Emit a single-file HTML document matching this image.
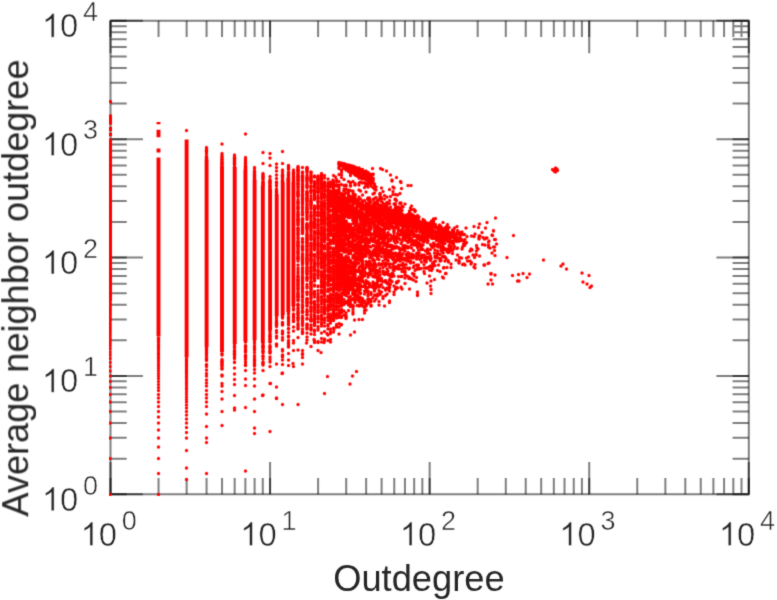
<!DOCTYPE html>
<html><head><meta charset="utf-8"><title>Outdegree vs average neighbor outdegree</title>
<style>
html,body{margin:0;padding:0;background:#fff}
svg{display:block}
text{font-family:"Liberation Sans",sans-serif;fill:#262626;stroke:#fff;paint-order:fill stroke}
.tk text{stroke-width:.5px}
</style></head>
<body>
<svg width="777" height="600" viewBox="0 0 777 600">
<defs><filter id="soft" filterUnits="userSpaceOnUse" x="0" y="0" width="777" height="600" color-interpolation-filters="sRGB"><feConvolveMatrix order="3" kernelMatrix=".0169 .0962 .0169 .0962 .5476 .0962 .0169 .0962 .0169" edgeMode="duplicate"/></filter></defs>
<g filter="url(#soft)">
<rect width="777" height="600" fill="#fff"/>
<g fill="none" stroke="#000" stroke-opacity=".5" stroke-width="2">
<path d="M110.5 20.8H748.8V494.3H110.5Z"/>
<path d="M110.5 494.3v-32.4M110.5 20.8v32.4M110.5 494.3h32.4M748.8 494.3h-32.4M158.54 494.3v-16.2M158.54 20.8v16.2M110.5 458.67h16.2M748.8 458.67h-16.2M186.64 494.3v-16.2M186.64 20.8v16.2M110.5 437.82h16.2M748.8 437.82h-16.2M206.57 494.3v-16.2M206.57 20.8v16.2M110.5 423.03h16.2M748.8 423.03h-16.2M222.04 494.3v-16.2M222.04 20.8v16.2M110.5 411.56h16.2M748.8 411.56h-16.2M234.67 494.3v-16.2M234.67 20.8v16.2M110.5 402.19h16.2M748.8 402.19h-16.2M245.36 494.3v-16.2M245.36 20.8v16.2M110.5 394.26h16.2M748.8 394.26h-16.2M254.61 494.3v-16.2M254.61 20.8v16.2M110.5 387.4h16.2M748.8 387.4h-16.2M262.77 494.3v-16.2M262.77 20.8v16.2M110.5 381.34h16.2M748.8 381.34h-16.2M270.07 494.3v-32.4M270.07 20.8v32.4M110.5 375.93h32.4M748.8 375.93h-32.4M318.11 494.3v-16.2M318.11 20.8v16.2M110.5 340.29h16.2M748.8 340.29h-16.2M346.21 494.3v-16.2M346.21 20.8v16.2M110.5 319.45h16.2M748.8 319.45h-16.2M366.15 494.3v-16.2M366.15 20.8v16.2M110.5 304.66h16.2M748.8 304.66h-16.2M381.61 494.3v-16.2M381.61 20.8v16.2M110.5 293.18h16.2M748.8 293.18h-16.2M394.25 494.3v-16.2M394.25 20.8v16.2M110.5 283.81h16.2M748.8 283.81h-16.2M404.93 494.3v-16.2M404.93 20.8v16.2M110.5 275.89h16.2M748.8 275.89h-16.2M414.19 494.3v-16.2M414.19 20.8v16.2M110.5 269.02h16.2M748.8 269.02h-16.2M422.35 494.3v-16.2M422.35 20.8v16.2M110.5 262.97h16.2M748.8 262.97h-16.2M429.65 494.3v-32.4M429.65 20.8v32.4M110.5 257.55h32.4M748.8 257.55h-32.4M477.69 494.3v-16.2M477.69 20.8v16.2M110.5 221.92h16.2M748.8 221.92h-16.2M505.79 494.3v-16.2M505.79 20.8v16.2M110.5 201.07h16.2M748.8 201.07h-16.2M525.72 494.3v-16.2M525.72 20.8v16.2M110.5 186.28h16.2M748.8 186.28h-16.2M541.19 494.3v-16.2M541.19 20.8v16.2M110.5 174.81h16.2M748.8 174.81h-16.2M553.82 494.3v-16.2M553.82 20.8v16.2M110.5 165.44h16.2M748.8 165.44h-16.2M564.51 494.3v-16.2M564.51 20.8v16.2M110.5 157.51h16.2M748.8 157.51h-16.2M573.76 494.3v-16.2M573.76 20.8v16.2M110.5 150.65h16.2M748.8 150.65h-16.2M581.92 494.3v-16.2M581.92 20.8v16.2M110.5 144.59h16.2M748.8 144.59h-16.2M589.22 494.3v-32.4M589.22 20.8v32.4M110.5 139.18h32.4M748.8 139.18h-32.4M637.26 494.3v-16.2M637.26 20.8v16.2M110.5 103.54h16.2M748.8 103.54h-16.2M665.36 494.3v-16.2M665.36 20.8v16.2M110.5 82.7h16.2M748.8 82.7h-16.2M685.3 494.3v-16.2M685.3 20.8v16.2M110.5 67.91h16.2M748.8 67.91h-16.2M700.76 494.3v-16.2M700.76 20.8v16.2M110.5 56.43h16.2M748.8 56.43h-16.2M713.4 494.3v-16.2M713.4 20.8v16.2M110.5 47.06h16.2M748.8 47.06h-16.2M724.08 494.3v-16.2M724.08 20.8v16.2M110.5 39.14h16.2M748.8 39.14h-16.2M733.34 494.3v-16.2M733.34 20.8v16.2M110.5 32.27h16.2M748.8 32.27h-16.2M741.5 494.3v-16.2M741.5 20.8v16.2M110.5 26.22h16.2M748.8 26.22h-16.2M748.8 494.3v-32.4M748.8 20.8v32.4M110.5 20.8h32.4M748.8 20.8h-32.4"/>
<path d="M110.5 494.3v-16.2M110.5 20.8v16.2M110.5 494.3h16.2M748.8 494.3h-16.2M270.07 494.3v-16.2M270.07 20.8v16.2M110.5 375.93h16.2M748.8 375.93h-16.2M429.65 494.3v-16.2M429.65 20.8v16.2M110.5 257.55h16.2M748.8 257.55h-16.2M589.22 494.3v-16.2M589.22 20.8v16.2M110.5 139.18h16.2M748.8 139.18h-16.2M748.8 494.3v-16.2M748.8 20.8v16.2M110.5 20.8h16.2M748.8 20.8h-16.2"/>
</g>
<defs>
<path id="one" d="M763 0H583V1147Q518 1085 412.5 1023T223 930V1104Q374 1175 487 1276T647 1472H763Z" fill="#262626" stroke="#fff" stroke-width="31" paint-order="fill stroke"/>
<path id="g0" d="M0 0m110 304.5h0m0 10h0m0 3.5h0m0 7h0m0 6h0m0 4.5h0m0 7.5h0m0 5.5h0m0 10h0m0 4h0m0 13.5h0m0 18.5h0m0 17h0m0 11.5h0m48.5-80h0m0 1.5h0m0 14h0m0 39.5h0m0 8.5h0m0 10.5h0m0 41.5h0m28-96h0m0 2.5h0m0 7.5h0m0 13h0m0 2h0m0 7h0m0 2.5h0m0 35.5h0m0 5.5h0m20-287.5h0m0 203h0m0 6h0m0 14h0m0 53h0m15.5-282.5h0m0 12.5h0m0 3h0m0 1.5h0m0 3h0m0 190.5h0m0 .5h0m0 4.5h0m0 3.5h0m0 1h0m0 3.5h0m0 1h0m12.5-210h0m0 1.5h0m0 4h0m0 186.5h0m0 3h0m11-189.5h0m0 1.5h0m0 176h0m0 4h0m0 11h0m0 5.5h0m0 .5h0m0 2h0m9-193.5h0m0 2h0m0 172.5h0m0 .5h0m0 1h0m0 11.5h0m0 14.5h0m8.5-220.5h0m0 30h0m0 3h0m0 162h0m0 3h0m0 8.5h0m0 3h0m0 1.5h0m-.5 32h0m7.5-214.5h0m0 .5h0m0 160.5h0m0 6h0m0 4h0m0 7.5h0m6.5-195.5h0m0 3.5h0m0 11h0m0 3.5h0m0 139.5h0m0 1.5h0m0 7.5h0m0 56.5h0m0 11.5h0m6-247h0m0 30h0m0 134h0m0 7h0m0 1.5h0m0 .5h0m0 6.5h0m0 6.5h0m0 12h0m0 5.5h0m6-189h0m0 2.5h0m0 149h0m0 2h0m0 .5h0m0 1h0m0 15.5h0m5-162.5h0m0 1h0m0 1.5h0m0 2.5h0m0 .5h0m0 130.5h0m0 11h0m0 45.5h0m4.5-196.5h0m0 1.5h0m0 5.5h0m0 .5h0m0 1.5h0m0 3.5h0m0 1.5h0m0 4h0m0 11.5h0m0 7.5h0m0 2h0m0 .5h0m0 2h0m0 3h0m0 2.5h0m0 1.5h0m0 3h0m0 1.5h0m0 2h0m0 3.5h0m0 2.5h0m0 7.5h0m0 4h0m0 2.5h0m0 7h0m0 1.5h0m0 3.5h0m0 16.5h0m0 5.5h0m0 1h0m0 2.5h0m0 6h0m0 2.5h0m0 6.5h0m0 7.5h0m0 3h0m0 10.5h0m0 2h0m0 7.5h0m0 9.5h0m4.5-165.5h0m0 4.5h0m0 2h0m0 1h0m0 .5h0m0 11h0m0 4.5h0m0 .5h0m0 6h0m0 20.5h0m0 2.5h0m0 17h0m0 5h0m0 6.5h0m0 6h0m0 9h0m0 10h0m0 2.5h0m0 4h0m0 1.5h0m0 5h0m0 6h0m0 4.5h0m0 4h0m0 .5h0m0 5h0m0 9h0m0 .5h0m0 1h0m0 35.5h0m4.5-190h0m0 11h0m0 3.5h0m0 .5h0m0 4h0m0 8h0m0 5h0m0 2.5h0m0 10h0m0 7.5h0m0 6h0m0 1.5h0m0 2h0m0 1h0m0 6h0m0 1h0m0 5h0m0 4.5h0m0 1h0m0 .5h0m0 2h0m0 2.5h0m0 6h0m0 .5h0m0 9.5h0m0 3h0m0 1.5h0m0 1h0m0 .5h0m0 4h0m0 13.5h0m0 7h0m0 1.5h0m0 .5h0m0 1.5h0m0 12.5h0m0 22h0m4-160h0m0 .5h0m0 5.5h0m0 3h0m0 3.5h0m0 1.5h0m0 14h0m0 19.5h0m0 5.5h0m0 3.5h0m0 .5h0m0 1h0m0 4.5h0m0 5h0m0 1h0m0 4.5h0m0 6.5h0m0 .5h0m0 3.5h0m0 6h0m0 2h0m0 3h0m0 10h0m0 1h0m0 3.5h0m0 1.5h0m0 5.5h0m0 9.5h0m0 8.5h0m0 9h0m0 7.5h0m0 .5h0m3.5-151h0m0 4.5h0m0 4h0m0 10.5h0m0 1h0m0 11h0m0 1.5h0m0 3.5h0m0 13h0m0 6.5h0m0 6.5h0m0 1h0m0 1h0m0 23.5h0m0 .5h0m0 13h0m0 1.5h0m0 12h0m0 3.5h0m0 2h0m0 5h0m0 2.5h0m0 1h0m0 5h0m0 2h0m0 3h0m0 7h0m-.5 17h0m4-156.5h0m0 6.5h0m0 1.5h0m0 7h0m0 14.5h0m0 3.5h0m0 9.5h0m0 .5h0m0 7.5h0m0 5h0m0 .5h0m0 .5h0m0 1h0m0 4h0m0 16h0m0 4h0m0 2h0m0 7.5h0m0 1h0m0 25.5h0m0 .5h0m0 .5h0m0 3.5h0m0 5.5h0m0 1h0m0 .5h0m0 30.5h0m3.5-166.5h0m0 1.5h0m0 2.5h0m0 3.5h0m0 3.5h0m0 2h0m0 .5h0m0 4h0m0 8h0m0 2.5h0m0 11h0m0 .5h0m0 8h0m0 5h0m0 .5h0m0 1h0m0 .5h0m0 4.5h0m0 .5h0m0 1h0m0 3.5h0m0 1h0m0 1h0m0 1h0m0 6h0m0 2h0m0 3.5h0m0 .5h0m0 1.5h0m0 1h0m0 2.5h0m0 2.5h0m0 9h0m0 3h0m0 7.5h0m0 3.5h0m0 1.5h0m0 5.5h0m0 5h0m0 12h0m0 9h0m0 .5h0m0 5h0m-.5 28.5h0m3.5-164.5h0m0 .5h0m0 5h0m0 2h0m0 2h0m0 5.5h0m0 17.5h0m0 36h0m0 2h0m0 9.5h0m0 1.5h0m0 5.5h0m0 .5h0m0 7.5h0m0 4h0m0 13.5h0m0 7h0m0 12.5h0m3.5-141h0m0 5.5h0m0 1h0m0 5.5h0m0 7h0m0 8.5h0m0 2.5h0m0 7h0m0 .5h0m0 1h0m0 4.5h0m0 13h0m0 22h0m0 8h0m0 6h0m0 1h0m0 7.5h0m0 2.5h0m0 2h0m0 6.5h0m0 17h0m0 9.5h0m0 3.5h0m0 5.5h0m-1 7.5h0m3.5-147.5h0m0 12h0m0 8.5h0m0 8.5h0m0 2h0m0 3.5h0m0 1h0m0 5h0m0 6.5h0m0 19h0m0 19h0m0 9h0m0 .5h0m0 9.5h0m0 6.5h0m0 .5h0m0 1h0m0 2.5h0m0 13.5h0m0 3h0m0 4h0m0 8h0m0 4.5h0m0 6h0m2.5-159.5h0m.5 8h0m0 6.5h0m0 .5h0m0 .5h0m0 5h0m0 1.5h0m0 2h0m0 1h0m0 4h0m0 8h0m0 12.5h0m0 1.5h0m0 2.5h0m0 1h0m0 1.5h0m0 19.5h0m0 7h0m0 6.5h0m0 9h0m0 .5h0m0 3.5h0m0 4.5h0m0 5h0m0 .5h0m0 2.5h0m0 4h0m0 14h0m0 3.5h0m0 3h0m0 .5h0m0 .5h0m2-143h0m1 2.5h0m0 6h0m0 6.5h0m0 .5h0m0 7h0m0 7.5h0m0 2.5h0m0 10.5h0m0 4h0m0 2h0m0 1.5h0m0 8.5h0m0 2h0m0 1.5h0m0 3.5h0m0 .5h0m0 3h0m0 1.5h0m0 8h0m0 6h0m0 1.5h0m0 2h0m0 10.5h0m0 9.5h0m0 1h0m0 2h0m0 1h0m0 5h0m0 1.5h0m0 2.5h0m0 3.5h0m0 11.5h0m0 .5h0m0 13h0m2.5-142h0m0 5.5h0m0 6h0m0 2h0m0 3.5h0m0 3h0m0 2.5h0m0 1.5h0m0 1h0m0 2h0m0 4h0m0 4.5h0m0 14.5h0m0 .5h0m0 4.5h0m0 1h0m0 .5h0m0 4.5h0m0 4.5h0m0 3.5h0m0 16h0m0 5.5h0m0 6h0m0 1h0m0 1h0m0 4h0m0 9h0m0 .5h0m0 2.5h0m0 7h0m0 .5h0m0 3h0m0 3.5h0m0 .5h0m2.5-144h0m0 2.5h0m0 12h0m0 14h0m0 .5h0m0 2.5h0m0 3h0m0 .5h0m0 5.5h0m0 6h0m0 4.5h0m0 .5h0m0 1h0m0 5.5h0m0 6h0m0 .5h0m0 1h0m0 11h0m0 15h0m0 3h0m0 3h0m0 .5h0m0 1.5h0m0 5.5h0m0 1h0m0 .5h0m0 .5h0m0 6.5h0m0 9.5h0m0 .5h0m0 17.5h0m0 1.5h0m0 3.5h0m2.5-151.5h0m0 .5h0m0 .5h0m2 .5h0m0 .5h0m-2 .5h0m0 .5h0m2 .5h0m-2 27h0m2 4h0m0 3h0m-2 .5h0m2 4h0m-2 0h0m2 .5h0m-2 .5h0m2 1h0m-2 2h0m2 0h0m-2 6.5h0m0 .5h0m0 1h0m0 2h0m0 7.5h0m2 1h0m-2 1.5h0m2 1h0m-2 2h0m2 1.5h0m0 1h0m-2 2.5h0m2 1.5h0m-2 4h0m2 6.5h0m0 5.5h0m0 2h0m-2 1.5h0m2 .5h0m-2 1.5h0m2 1h0m-2 2h0m0 .5h0m0 4h0m2 6.5h0m-2 3h0m2 .5h0m-2 0h0m0 .5h0m2 0h0m-2 2h0m2 8.5h0m-2 1h0m0 .5h0m0 1.5h0m2 2.5h0m0 7.5h0m2.5-137.5h0m0 1h0m0 .5h0m0 .5h0m0 .5h0m0 27h0m0 14h0m0 5h0m0 3h0m0 9h0m0 2.5h0m0 9.5h0m0 .5h0m0 19h0m0 7.5h0m0 12h0m0 2h0m0 2h0m0 2.5h0m0 .5h0m0 .5h0m0 .5h0m0 12h0m0 8h0m2-139h0m0 2.5h0m0 3h0m0 2h0m0 25h0m0 2h0m0 7.5h0m0 .5h0m0 4h0m0 1h0m0 4h0m0 10.5h0m0 3h0m0 .5h0m0 13.5h0m0 7h0m0 8.5h0m0 1.5h0m0 4h0m0 1h0m0 1h0m0 .5h0m0 2.5h0m0 6.5h0m0 1h0m0 8h0m0 1.5h0m0 1.5h0m0 14h0m0 3h0m-.5 77.5h0m5-214h0m-2 1h0m2 2h0m-2 20h0m2 16.5h0m-2 18.5h0m0 4.5h0m2 8h0m0 4h0m-2 .5h0m2 2h0m0 3.5h0m0 9.5h0m0 .5h0m-2 2h0m2 1h0m-2 10.5h0m0 2h0m0 2h0m0 1.5h0m0 9.5h0m2 1.5h0m-2 3h0m2 7.5h0m-2 5h0m0 3.5h0m0 2.5h0m1.5 8h0m2.5-151.5h0m0 1h0m0 5h0m0 1.5h0m0 28.5h0m0 2.5h0m0 1.5h0m0 1h0m0 .5h0m0 1h0m0 1h0m0 4h0m0 23h0m0 3.5h0m0 5h0m0 4.5h0m0 .5h0m0 11.5h0m0 26.5h0m0 5h0m3.5-122h0m-1.5 .5h0m1.5 3h0m0 1h0m0 13h0m-1.5 13.5h0m0 .5h0m1.5 1h0m-1.5 6.5h0m0 3.5h0m0 17h0m0 3h0m0 .5h0m1.5 12.5h0m-1.5 1h0m0 6.5h0m0 11h0m1.5 3.5h0m-1.5 .5h0m1.5 .5h0m0 5h0m0 2h0m0 7.5h0m0 3h0m-1.5 3.5h0m1.5 .5h0m-1.5 3h0m0 5h0m0 3.5h0m3.5-132.5h0m0 1.5h0m0 2.5h0m0 2.5h0m0 22h0m0 8.5h0m0 5.5h0m0 14h0m0 7h0m0 3h0m0 1h0m0 1.5h0m0 20.5h0m0 5h0m0 .5h0m0 1.5h0m0 11.5h0m0 6h0m0 14h0m3.5-129.5h0m-1.5 .5h0m1.5 2.5h0m0 .5h0m-1.5 0h0m0 .5h0m1.5 0h0m-1.5 .5h0m1.5 4h0m0 23.5h0m0 4h0m0 .5h0m0 1h0m-1.5 .5h0m1.5 3h0m0 1.5h0m-1.5 2h0m0 1h0m0 5.5h0m0 10.5h0m1.5 0h0m-1.5 17.5h0m0 3h0m0 .5h0m0 1.5h0m0 15h0m1.5 3h0m-1.5 12.5h0m0 .5h0m0 .5h0m1.5 .5h0m-1.5 15h0m1.5 3.5h0m3.5-131.5h0m-1.5 .5h0m1.5 1h0m0 3h0m-1.5 1h0m0 .5h0m0 7h0m0 11h0m1.5 0h0m-1.5 6.5h0m1.5 3.5h0m-1.5 3h0m0 1h0m1.5 1h0m-1.5 6h0m0 1.5h0m1.5 1.5h0m0 1.5h0m0 4.5h0m-1.5 4h0m1.5 2.5h0m-1.5 17h0m1.5 11.5h0m-1.5 1.5h0m0 1h0m1.5 8h0m-1.5 9.5h0m0 4.5h0m1.5 12h0m3.5-125h0m-2 4.5h0m2 1h0m-2 .5h0m0 3h0m2 23.5h0m-2 3.5h0m0 1.5h0m0 1.5h0m2 .5h0m-2 .5h0m0 8h0m0 3h0m0 13.5h0m2 6.5h0m-2 10.5h0m0 7.5h0m0 2h0m2 4.5h0m-2 4h0m0 12.5h0m0 7.5h0m0 .5h0m3.5-110.5h0m0 5h0m0 14.5h0m1.5 .5h0m-1.5 2.5h0m1.5 1h0m0 1.5h0m-1.5 1h0m0 2h0m1.5 2.5h0m0 2.5h0m-1.5 .5h0m1.5 1h0m-1.5 6h0m0 7h0m1.5 16.5h0m-1.5 2h0m0 .5h0m1.5 2h0m-1.5 0h0m1.5 .5h0m0 1h0m-1.5 8.5h0m0 7h0m0 7.5h0m0 9h0m0 2.5h0m3-79.5h0m1.5 2h0m-1.5 2h0m0 13.5h0m1.5 2.5h0m0 1h0m0 10h0m-1.5 9h0m0 5.5h0m1.5 1h0m0 15.5h0m-1.5 2.5h0m2.5-68.5h0m1.5 .5h0m0 1h0m-1.5 3.5h0m0 .5h0m0 2h0m0 2h0m1.5 15h0m-1.5 2.5h0m1.5 6.5h0m0 4h0m-1.5 3.5h0m0 3.5h0m1.5 29h0m1-109h0m.5 22h0m1.5 17.5h0m1 0h0m0 .5h0m-1 0h0m1 .5h0m-1 1.5h0m0 1.5h0m-1.5 .5h0m2.5 4.5h0m-2.5 2h0m0 9h0m1.5 5h0m1 1h0m-2.5 .5h0m2.5 7.5h0m-1 1h0m1 1h0m-2.5 4h0m1.5 1h0m0 3h0m0 .5h0m-1.5 7.5h0m0 3h0m2.5 2h0m-2.5 21.5h0m2.5 8h0m-2.5 3h0m4-95.5h0m0 2h0m1 3.5h0m0 1h0m-1 1h0m0 .5h0m1 21.5h0m-1 22h0m1 0h0m-1 .5h0m1 1.5h0m0 7.5h0m0 10h0m-1 9h0m1 6h0m-1 5h0m2.5-104.5h0m1 20h0m-1 1h0m1 5h0m-1 3.5h0m0 4.5h0m1 1h0m0 10.5h0m0 21h0m0 1.5h0m-1 22h0m0 1h0m0 20.5h0m2.5-121h0m1 11.5h0m1 18.5h0m-2 2.5h0m2 2.5h0m-1 0h0m-1 2h0m1 .5h0m1 1h0m0 .5h0m-2 3.5h0m2 .5h0m-2 3.5h0m0 .5h0m2 6h0m-2 12.5h0m2 1h0m-1 7h0m-1 3h0m2 3h0m-1 14h0m-1 1.5h0m3.5-64.5h0m2 1.5h0m-1 4h0m0 1h0m1 2.5h0m-2 4.5h0m1 3.5h0m-1 12h0m0 3.5h0m0 11h0m1 2h0m1 2.5h0m-1 1h0m-1 7h0m0 23h0m4.5-77.5h0m-1.5 5.5h0m0 10.5h0m0 10h0m0 10h0m1.5 2h0m-1.5 3.5h0m0 3h0m0 10.5h0m0 9.5h0m2.5-66h0m2 4h0m-1 0h0m-1 .5h0m2 1h0m-2 2.5h0m2 4h0m0 6.5h0m-2 1h0m1 .5h0m-1 13h0m1 6h0m0 10h0m1 3.5h0m-1 2h0m1 3.5h0m2-52.5h0m0 1h0m1 3.5h0m-2 1h0m2 .5h0m-1 1h0m0 2.5h0m0 1h0m0 5.5h0m0 3h0m1 2.5h0m-2 11.5h0m0 1h0m1 .5h0m0 .5h0m0 7h0m0 10h0m0 4.5h0m3-87h0m0 29h0m-1 1h0m2.5 2h0m-1.5 0h0m1 3h0m0 .5h0m-2 1.5h0m1 4.5h0m1 .5h0m.5 0h0m-.5 2h0m0 3h0m-1 .5h0m-1 5h0m2 3h0m0 6h0m-1 1h0m0 8h0m-1 1.5h0m2.5 31.5h0m2-83h0m0 8h0m0 2h0m0 5.5h0m-1 1.5h0m1 1.5h0m0 2h0m0 5h0m-1 1.5h0m0 4.5h0m0 1h0m1 6h0m0 9.5h0m-1 3.5h0m1 .5h0m-1 3h0m3-45h0m0 4.5h0m0 2h0m-1 .5h0m0 10h0m1 2.5h0m0 1h0m-1 5h0m1 3h0m0 18h0m0 17.5h0m4-64.5h0m-1 3h0m1 1.5h0m-1.5 0h0m1.5 2.5h0m-1.5 3.5h0m.5 0h0m-.5 .5h0m0 1.5h0m0 .5h0m1.5 .5h0m-1 .5h0m-.5 5.5h0m0 .5h0m.5 5.5h0m2-21.5h0m.5 1.5h0m0 1h0m0 .5h0m1 2h0m-1 .5h0m2 3h0m-2.5 7h0m0 .5h0m3 3h0m-1.5 1.5h0m1.5 15h0m-2.5 1h0m4-34h0m-.5 1h0m.5 4.5h0m0 5h0m-.5 3h0m0 5h0m0 16.5h0m2-36.5h0m1.5 5.5h0m1.5 1.5h0m-2 0h0m.5 .5h0m1.5 0h0m-.5 1h0m-1.5 0h0m1.5 2h0m-2.5 0h0m1.5 6.5h0m1.5 2h0m-3 19.5h0m2.5 9h0m2-42h0m.5 1h0m-1.5 1h0m1 .5h0m0 .5h0m-1 6h0m0 1h0m5.5-17h0m-2 5.5h0m2 0h0m-2 1h0m1.5 .5h0m-2 1.5h0m-.5 4h0m2.5 1h0m-1.5 1.5h0m1.5 2.5h0m-2 .5h0m2.5 1h0m-1 .5h0m-2 17.5h0m0 4.5h0m2.5 3h0m-.5 5h0m-2 17.5h0m5-61.5h0m-.5 6.5h0m.5 4h0m-1 2.5h0m.5 .5h0m.5 23h0m-1 .5h0m5-36.5h0m0 2.5h0m0 6.5h0m-2.5 1.5h0m.5 1.5h0m1 .5h0m-2 1h0m3 .5h0m-1.5 1.5h0m2-15h0m1 5h0m-.5 .5h0m1 .5h0m-1.5 1.5h0m0 2.5h0m1 1.5h0m-.5 4h0m0 18.5h0m4-30.5h0m-1.5 1h0m0 2.5h0m2 1h0m-.5 4.5h0m-2 5h0m.5 4h0m.5 1h0m-1 .5h0m2 8h0m.5 .5h0m-1 10.5h0m3-37h0m-1 1.5h0m2 2h0m-1 1.5h0m1 .5h0m-2 4h0m1.5 .5h0m.5 20h0m1-33h0m-.5 8h0m.5 .5h0m1 4h0m-.5 5h0m.5 2h0m-1.5 3.5h0m5-20h0m-.5 12h0m.5 1h0m-1 7h0m2-22.5h0m3 2.5h0m-.5 2h0m-2 6.5h0m2.5 0h0m0 2.5h0m1-7.5h0m1.5 3h0m-.5 4h0m0 16.5h0m2-24h0m-.5 5.5h0m1.5 1h0m2.5 25h0m6.5-29h0m.5 14h0m1 5h0m1 12h0m1 1h0m3.5-40.5h0m6 11.5h0m4.5 2h0m-.5 1h0m0 5h0m-.5 37h0m4-31h0m3 2.5h0m60.5-87.5h0m-1.5 3h0m3-2h0m.5 1.5h0m3.5 95.5h0m2-2h0"/><path id="g1" d="M0 0m110 307.5h0m0 4h0m0 4.5h0m0 13h0m0 16.5h0m0 21h0m0 92h0m48.5-119.5h0m0 21.5h0m0 2h0m0 2h0m0 26h0m0 39.5h0m0 43.5h0m28-343h0m0 228h0m0 2.5h0m0 7h0m0 111.5h0m20-328.5h0m0 6.5h0m0 194.5h0m0 .5h0m0 2.5h0m0 1h0m0 1h0m0 1.5h0m0 24.5h0m0 31h0m0 59.5h0m15.5-313.5h0m0 2h0m0 1.5h0m0 198h0m0 7.5h0m0 30h0m12.5-240h0m0 4h0m0 1.5h0m0 182h0m0 10.5h0m0 5h0m0 .5h0m0 5.5h0m0 11.5h0m11-220h0m0 .5h0m0 7.5h0m0 174.5h0m0 4.5h0m0 3h0m0 2h0m0 34h0m0 85.5h0m9-299.5h0m0 .5h0m0 .5h0m0 1.5h0m0 2h0m0 3h0m0 164h0m0 7h0m0 5.5h0m0 1h0m0 4.5h0m0 5h0m0 13h0m8.5-202h0m0 1.5h0m0 5.5h0m0 159h0m0 1h0m0 1.5h0m0 25h0m0 24.5h0m7-241.5h0m0 12h0m0 20h0m0 149.5h0m0 4h0m0 2h0m0 9h0m0 3h0m0 13.5h0m.5 17h0m-.5 48h0m6.5-245.5h0m0 3h0m0 .5h0m0 126.5h0m0 48h0m6-194h0m0 4.5h0m0 2.5h0m0 139.5h0m0 17.5h0m0 30.5h0m-.5 9h0m6.5-208h0m0 1h0m0 3h0m0 2.5h0m0 3h0m0 138.5h0m0 11.5h0m0 7.5h0m0 21h0m0 6.5h0m5-190h0m0 2h0m0 2.5h0m0 3.5h0m0 128.5h0m0 8.5h0m0 1.5h0m0 34h0m-.5 13h0m5-196h0m0 2h0m0 6h0m0 .5h0m0 3.5h0m0 7h0m0 5h0m0 3h0m0 2h0m0 6.5h0m0 5.5h0m0 4h0m0 7h0m0 14h0m0 .5h0m0 .5h0m0 10h0m0 2h0m0 5h0m0 6.5h0m0 18.5h0m0 10.5h0m0 1h0m0 5h0m0 2.5h0m0 4.5h0m0 5.5h0m0 7.5h0m0 16h0m4.5-148h0m0 1h0m0 5.5h0m0 7.5h0m0 4h0m0 5.5h0m0 2h0m0 12h0m0 5h0m0 .5h0m0 2.5h0m0 3.5h0m0 3.5h0m0 6h0m0 2h0m0 1h0m0 5.5h0m0 2.5h0m0 6.5h0m0 6h0m0 4.5h0m0 4h0m0 8h0m0 11.5h0m0 2h0m0 2h0m0 1h0m0 11.5h0m0 .5h0m0 4.5h0m0 19h0m0 19h0m0 3h0m4.5-182.5h0m0 6h0m0 1h0m0 6.5h0m0 7h0m0 1.5h0m0 5.5h0m0 5.5h0m0 2h0m0 2h0m0 .5h0m0 1h0m0 6h0m0 1h0m0 8h0m0 1.5h0m0 2h0m0 4h0m0 5.5h0m0 1.5h0m0 .5h0m0 6.5h0m0 9h0m0 5h0m0 4h0m0 6.5h0m0 7h0m0 24.5h0m0 9.5h0m0 3h0m0 4.5h0m0 6h0m4-153h0m0 2h0m0 1h0m0 5.5h0m0 9.5h0m0 8.5h0m0 .5h0m0 1h0m0 3h0m0 13h0m0 2h0m0 .5h0m0 .5h0m0 .5h0m0 .5h0m0 3h0m0 4h0m0 2.5h0m0 7h0m0 7h0m0 2.5h0m0 3h0m0 5h0m0 6h0m0 4h0m0 3h0m0 4h0m0 5.5h0m0 5.5h0m0 9h0m0 3h0m0 20.5h0m0 5h0m0 1.5h0m3.5-145h0m0 .5h0m0 7.5h0m0 7h0m0 .5h0m0 2.5h0m0 1.5h0m0 3.5h0m0 7h0m0 9.5h0m0 2.5h0m0 4h0m0 1.5h0m0 1.5h0m0 3h0m0 6h0m0 2h0m0 2h0m0 16.5h0m0 9h0m0 6h0m0 5h0m0 6h0m0 21h0m0 7.5h0m0 8h0m0 1h0m0 2.5h0m0 1.5h0m0 3.5h0m0 17h0m3.5-164h0m0 2.5h0m0 2.5h0m0 .5h0m0 1.5h0m0 2.5h0m0 20h0m0 6.5h0m0 .5h0m0 12h0m0 .5h0m0 6.5h0m0 2.5h0m0 13h0m0 4.5h0m0 .5h0m0 3.5h0m0 .5h0m0 4h0m0 .5h0m0 6.5h0m0 29h0m0 1h0m0 8h0m0 1.5h0m0 1h0m0 7.5h0m0 1h0m0 3.5h0m3.5-147.5h0m0 10.5h0m0 1h0m0 2.5h0m0 10h0m0 6h0m0 2h0m0 .5h0m0 1h0m0 1.5h0m0 2.5h0m0 5h0m0 3h0m0 7h0m0 .5h0m0 6h0m0 1h0m0 4h0m0 8h0m0 5h0m0 1h0m0 1.5h0m0 7h0m0 2h0m0 34h0m0 7h0m0 11h0m0 18h0m3-149h0m0 1.5h0m0 .5h0m0 1.5h0m0 17h0m0 7h0m0 2.5h0m0 3h0m0 7h0m0 6.5h0m0 3.5h0m0 1h0m0 2.5h0m0 1h0m0 3h0m0 .5h0m0 3.5h0m0 7.5h0m0 .5h0m0 2h0m0 2h0m0 2.5h0m0 1h0m0 1.5h0m0 4h0m0 5h0m0 6.5h0m0 5.5h0m0 4.5h0m0 6.5h0m0 4.5h0m0 1h0m0 9.5h0m0 2.5h0m0 27h0m-.5 3.5h0m4-155.5h0m0 2h0m0 .5h0m0 6h0m0 7.5h0m0 .5h0m0 19.5h0m0 5.5h0m0 2h0m0 .5h0m0 2.5h0m0 2h0m0 4.5h0m0 3.5h0m0 5.5h0m0 3h0m0 3.5h0m0 3.5h0m0 9h0m0 8h0m0 6.5h0m0 9h0m0 4.5h0m0 .5h0m0 3.5h0m0 .5h0m0 1.5h0m0 8h0m0 4h0m0 26.5h0m-.5 36h0m3-194.5h0m0 9h0m0 2h0m0 2h0m0 3.5h0m0 11.5h0m0 16h0m0 1.5h0m0 2.5h0m0 11h0m0 27h0m0 7h0m0 3.5h0m0 20h0m0 8.5h0m0 9h0m0 3h0m0 4h0m3-141.5h0m0 4h0m0 3h0m0 1h0m0 1.5h0m0 8.5h0m0 1.5h0m0 5.5h0m0 .5h0m0 1.5h0m0 1.5h0m0 4.5h0m0 3h0m0 1.5h0m0 .5h0m0 2h0m0 .5h0m0 .5h0m0 2.5h0m0 2.5h0m0 .5h0m0 .5h0m0 5.5h0m0 1h0m0 .5h0m0 1h0m0 13.5h0m0 .5h0m0 9.5h0m0 1.5h0m0 8.5h0m0 2h0m0 5h0m0 2h0m0 4.5h0m0 .5h0m0 11h0m0 6h0m0 3.5h0m0 2h0m0 1h0m0 .5h0m0 1h0m3-117.5h0m0 4h0m0 1h0m0 1.5h0m0 1h0m0 3.5h0m0 6.5h0m0 1.5h0m0 8.5h0m0 6.5h0m0 3h0m0 1h0m0 .5h0m0 2.5h0m0 2.5h0m0 10h0m0 9h0m0 13h0m0 .5h0m0 .5h0m0 4h0m0 2.5h0m0 3h0m0 19.5h0m0 2h0m0 4h0m0 12h0m0 1h0m2.5-134.5h0m0 12h0m0 12h0m0 12.5h0m0 6h0m0 2.5h0m0 2h0m0 1.5h0m0 2h0m0 1.5h0m0 5.5h0m0 9.5h0m0 9h0m0 5.5h0m0 13h0m0 1h0m0 11.5h0m0 2.5h0m0 21.5h0m2.5-147.5h0m0 10h0m0 19h0m0 5.5h0m0 3h0m0 1h0m0 3h0m0 3h0m0 3.5h0m0 7.5h0m0 8.5h0m0 3h0m0 1.5h0m0 3.5h0m0 4h0m0 1h0m0 1h0m0 5.5h0m0 1h0m0 10h0m0 12.5h0m0 7h0m0 5.5h0m0 1h0m0 .5h0m0 1h0m0 10.5h0m0 1h0m0 1h0m0 .5h0m0 1h0m0 4.5h0m-.5 19.5h0m3-161.5h0m0 .5h0m2 .5h0m0 1h0m0 2h0m-2 1h0m2 .5h0m0 .5h0m0 .5h0m-2 19h0m2 0h0m0 1h0m-2 .5h0m0 3.5h0m0 2.5h0m2 1.5h0m-2 2.5h0m0 .5h0m0 5h0m0 8.5h0m2 .5h0m-2 10h0m0 10.5h0m2 1h0m-2 5h0m0 1h0m0 1h0m0 3h0m0 2h0m0 10.5h0m0 1h0m2 2h0m0 1h0m0 4h0m-2 3.5h0m0 3h0m2 .5h0m0 1h0m-2 1.5h0m0 .5h0m2 1h0m-2 2h0m2 8.5h0m0 .5h0m0 .5h0m0 1h0m-2 1.5h0m2 9.5h0m-2 3h0m4.5-139.5h0m0 1h0m0 2.5h0m0 3h0m0 31h0m0 1h0m0 2.5h0m0 .5h0m0 4h0m0 2h0m0 4h0m0 7.5h0m0 1h0m0 14h0m0 1.5h0m0 1.5h0m0 10h0m0 6h0m0 3.5h0m0 5h0m0 6.5h0m0 3.5h0m0 10h0m0 5h0m0 8.5h0m0 2h0m0 2h0m2-121.5h0m0 8h0m0 6.5h0m0 .5h0m0 2h0m0 2h0m0 5h0m0 1h0m0 3.5h0m0 1h0m0 3h0m0 12.5h0m0 1h0m0 5h0m0 10.5h0m0 2h0m0 4h0m0 11.5h0m0 1.5h0m0 3.5h0m0 6h0m0 1.5h0m0 7.5h0m2.5-114h0m2 1.5h0m0 1.5h0m0 4h0m0 .5h0m0 9.5h0m-2 6.5h0m0 4.5h0m0 1h0m2 0h0m-2 3.5h0m2 1h0m-2 0h0m0 3.5h0m0 3h0m0 2h0m2 .5h0m0 1h0m0 7h0m0 2.5h0m-2 8h0m0 2h0m0 3h0m2 1h0m-2 1.5h0m2 .5h0m-2 2.5h0m0 6.5h0m0 4.5h0m2 16h0m0 3.5h0m0 4.5h0m0 9.5h0m-2 1h0m2 9.5h0m-2 .5h0m2 2.5h0m-2 1.5h0m0 1h0m0 7.5h0m-.5 69h0m4.5-206h0m0 3h0m0 .5h0m0 1.5h0m0 .5h0m0 36h0m0 1h0m0 2h0m0 7h0m0 1.5h0m0 .5h0m0 7h0m0 18.5h0m0 4.5h0m0 9.5h0m0 8h0m0 8h0m-.5 92.5h0m4-201.5h0m0 2h0m0 .5h0m-1.5 1h0m1.5 .5h0m0 2h0m-1.5 .5h0m1.5 1h0m-1.5 7.5h0m0 5h0m0 12.5h0m1.5 1h0m-1.5 2.5h0m1.5 2h0m0 1.5h0m-1.5 2.5h0m1.5 1h0m-1.5 .5h0m0 1.5h0m1.5 1h0m0 3h0m0 5h0m0 2.5h0m-1.5 1h0m1.5 3h0m-1.5 2h0m1.5 6h0m-1.5 2.5h0m1.5 1.5h0m-1.5 2h0m0 2h0m0 1h0m1.5 7.5h0m-1.5 .5h0m1.5 .5h0m-1.5 3h0m0 .5h0m0 10h0m1.5 2h0m-1.5 5.5h0m0 2.5h0m1.5 1h0m0 .5h0m0 3.5h0m-1.5 1h0m1.5 .5h0m-1.5 .5h0m0 1.5h0m0 3.5h0m1.5 7h0m0 3.5h0m0 3h0m0 .5h0m-1.5 14h0m3.5-148.5h0m0 24h0m0 7.5h0m0 1h0m0 2h0m0 7h0m0 12.5h0m0 3h0m0 6h0m0 5.5h0m0 7.5h0m0 .5h0m0 6.5h0m0 .5h0m0 9h0m0 7h0m0 1.5h0m0 3.5h0m0 23h0m0 2.5h0m0 2.5h0m0 16h0m2-146h0m1.5 3h0m-1.5 1h0m0 5h0m1.5 1.5h0m-1.5 3.5h0m0 13h0m0 5h0m1.5 .5h0m0 3h0m0 1.5h0m-1.5 4h0m1.5 4h0m-1.5 0h0m0 .5h0m1.5 4.5h0m0 .5h0m0 5.5h0m0 1h0m-1.5 9.5h0m1.5 1h0m-1.5 1h0m1.5 3.5h0m-1.5 2.5h0m0 1.5h0m1.5 6.5h0m-1.5 .5h0m1.5 8.5h0m-1.5 10h0m0 8h0m1.5 1h0m-1.5 10h0m1.5 12h0m2-132.5h0m0 3h0m1.5 4h0m-1.5 .5h0m0 17.5h0m1.5 2h0m0 5.5h0m-1.5 1.5h0m0 .5h0m0 2.5h0m1.5 .5h0m0 1.5h0m-1.5 4.5h0m0 1.5h0m0 4h0m1.5 2.5h0m-1.5 5.5h0m0 4.5h0m0 14.5h0m1.5 11.5h0m0 6h0m0 8h0m-1.5 .5h0m0 1.5h0m1.5 6.5h0m0 .5h0m-1.5 12h0m0 3h0m3-120.5h0m2 3h0m0 1h0m-2 1.5h0m2 22h0m0 2h0m-2 1h0m2 3.5h0m-2 1.5h0m2 4h0m0 5.5h0m-2 13.5h0m2 1.5h0m-2 15.5h0m2 0h0m0 5h0m-2 5h0m0 1h0m2 3.5h0m0 13.5h0m-2 19.5h0m0 3.5h0m0 .5h0m3.5-112.5h0m1.5 4.5h0m-1.5 1h0m1.5 8.5h0m0 3h0m-1.5 1h0m1.5 1h0m-1.5 1h0m1.5 5h0m-1.5 15.5h0m0 .5h0m1.5 .5h0m-1.5 1h0m1.5 .5h0m0 1h0m-1.5 1.5h0m0 2.5h0m0 5h0m0 3.5h0m0 1.5h0m0 3h0m1.5 2h0m0 10.5h0m0 3.5h0m0 4h0m0 2.5h0m0 .5h0m0 6.5h0m1.5-81h0m0 7h0m0 3h0m1.5 4.5h0m-1.5 2h0m0 3.5h0m1.5 1h0m-1.5 6.5h0m0 1.5h0m0 9.5h0m0 6h0m0 1h0m1.5 3h0m-1.5 6.5h0m0 14h0m0 5.5h0m1.5 13.5h0m-1.5 3.5h0m1.5 11h0m1-111.5h0m0 4.5h0m1.5 8h0m-1.5 .5h0m1.5 5h0m0 1.5h0m0 2h0m0 3.5h0m-1.5 3h0m1.5 0h0m-1.5 1h0m0 1.5h0m0 7.5h0m0 3.5h0m0 2h0m1.5 12.5h0m-1.5 1.5h0m1.5 .5h0m0 5h0m0 8.5h0m-1.5 7h0m1.5 8h0m-1.5 5.5h0m1.5 6.5h0m3-93h0m-1.5 4h0m0 5.5h0m1.5 1.5h0m0 1h0m-1.5 .5h0m2.5 .5h0m-2.5 1h0m1.5 2.5h0m1 2h0m0 1.5h0m-2.5 4h0m2.5 1h0m0 1h0m0 3h0m-1 4.5h0m0 5h0m-1.5 1.5h0m0 1h0m0 6.5h0m2.5 9.5h0m0 3.5h0m0 3.5h0m0 2h0m0 .5h0m-2.5 2h0m1.5 7h0m1 6.5h0m0 8h0m1.5-85.5h0m0 4.5h0m0 1.5h0m1 1.5h0m-1 2h0m1 5h0m0 16h0m-1 1h0m1 1h0m0 5h0m-1 3.5h0m0 14h0m1 2.5h0m-1 11.5h0m2.5-56.5h0m0 2h0m1 .5h0m-1 5.5h0m1 14.5h0m-1 8h0m1 4h0m-1 0h0m1 13.5h0m-1 .5h0m1 19.5h0m-1 4h0m3.5-101h0m1 17h0m-1 10h0m-1 1.5h0m0 2.5h0m1 3h0m-1 4.5h0m2 1.5h0m0 4.5h0m-2 16h0m0 1h0m1 .5h0m0 9h0m0 1.5h0m1 3h0m0 6.5h0m-1 1h0m1 6h0m0 16h0m1.5-93h0m0 4.5h0m0 4h0m0 2.5h0m1 .5h0m0 1.5h0m0 1h0m1 1h0m-2 6h0m0 2h0m2 .5h0m0 11h0m-1 5h0m-1 9.5h0m2 7.5h0m-2 12h0m1 1h0m0 14.5h0m1 5h0m2.5-79h0m-1.5 6.5h0m0 3h0m0 2.5h0m0 3h0m0 1.5h0m0 5h0m1.5 18h0m0 12.5h0m-1.5 20h0m2.5-98.5h0m2 24.5h0m-1 12h0m1 1h0m-1 1h0m0 1.5h0m1 .5h0m-1 0h0m-1 2h0m2 14h0m-1 2.5h0m1 6.5h0m-1 23.5h0m-1 5h0m4-59h0m1 5h0m-2 0h0m2 1h0m0 6.5h0m0 2h0m-2 1h0m1 4.5h0m0 2.5h0m0 6.5h0m1 1h0m0 7h0m-2 4.5h0m2 5.5h0m-2 1h0m0 6h0m1 3.5h0m0 3h0m4.5-66h0m-.5 2.5h0m-2 .5h0m1 1.5h0m0 1.5h0m1.5 .5h0m0 6h0m-.5 .5h0m0 7h0m.5 1.5h0m-.5 20h0m.5 4h0m-1.5 1.5h0m1.5 2.5h0m-.5 7.5h0m1.5-53.5h0m0 2h0m1 1h0m0 4h0m-1 0h0m0 2.5h0m1 8h0m0 6h0m-1 2.5h0m1 6.5h0m0 31h0m2.5-60.5h0m0 1h0m0 2.5h0m0 2h0m1 2h0m0 1h0m-1 1h0m0 7h0m0 .5h0m-1.5 5h0m2.5 1.5h0m-1.5 8.5h0m.5 5.5h0m0 18h0m2-53h0m0 .5h0m1.5 1.5h0m-1.5 2h0m0 2.5h0m.5 1.5h0m1 14h0m-1.5 1h0m1.5 9h0m-1 3.5h0m0 12.5h0m0 8.5h0m1 17h0m2.5-70.5h0m1 1h0m-2 .5h0m2.5 5.5h0m-3 5h0m.5 .5h0m2.5 .5h0m-2.5 7h0m2.5 5h0m-2.5 3.5h0m2 5.5h0m-1 1.5h0m-1.5 5.5h0m0 3h0m4-30.5h0m.5 7.5h0m1 23h0m1.5-45.5h0m1.5 1.5h0m.5 2.5h0m-2 3h0m1.5 .5h0m-1.5 1h0m-1 .5h0m2.5 3.5h0m-2.5 3h0m0 2h0m0 .5h0m1.5 21.5h0m3-35h0m.5 2h0m0 2.5h0m0 3.5h0m2-14h0m1 2h0m1 3h0m0 .5h0m-2.5 3h0m.5 2.5h0m1 1h0m-2 1h0m.5 2.5h0m2.5 6.5h0m-.5 4.5h0m-2 11h0m2.5 4h0m-2 8h0m-.5 19h0m4.5-62.5h0m-1 4.5h0m0 21.5h0m.5 12.5h0m-.5 14h0m3.5-48h0m-.5 19.5h0m.5 2.5h0m.5 11.5h0m3-37.5h0m-1.5 .5h0m1.5 1h0m-.5 .5h0m.5 4h0m-.5 6.5h0m.5 3h0m-.5 4.5h0m-1 13.5h0m3-38.5h0m2.5 5h0m-2.5 1.5h0m1.5 5.5h0m-2 7.5h0m1.5 1h0m1 .5h0m-2.5 2.5h0m.5 3h0m0 8h0m.5 11h0m4-39.5h0m0 .5h0m0 .5h0m-1.5 .5h0m1 2.5h0m-1 6h0m2 3h0m-1 26h0m1.5-35h0m1.5 4h0m1.5 10h0m-.5 1.5h0m-.5 2h0m-1.5 .5h0m.5 1.5h0m-1 10h0m5-31h0m-1.5 5h0m0 1h0m1.5 7h0m2.5-7.5h0m-1.5 2h0m3 1.5h0m0 8h0m-.5 .5h0m.5 6.5h0m-1.5 5h0m3.5-27h0m-.5 27.5h0m4.5-26h0m0 10h0m-1.5 4.5h0m3-9.5h0m-1 1.5h0m0 23h0m2.5-6h0m4.5 6h0m4-30h0m1.5 11.5h0m2.5-9.5h0m0 3h0m8-1h0m-2.5 27h0m8-29.5h0m-1.5 38.5h0m1.5 10h0m25-3h0m37.5-111.5h0m.5 2.5h0"/><path id="g2" d="M0 0m110 302h0m0 8h0m0 77.5h0m0 107h0m48.5-156.5h0m0 9h0m0 3h0m0 5h0m0 11.5h0m0 2h0m0 10h0m0 44.5h0m28-63h0m0 9.5h0m0 4.5h0m0 3.5h0m0 6h0m0 8.5h0m0 19.5h0m0 3.5h0m0 4h0m20-262h0m0 191h0m0 1.5h0m0 36.5h0m0 12h0m0 40h0m0 4.5h0m15.5-278h0m0 200.5h0m0 11h0m0 10h0m0 5.5h0m12.5-233.5h0m0 2.5h0m0 .5h0m0 184h0m0 7h0m0 2h0m0 1h0m0 3.5h0m0 26h0m11-221h0m0 2.5h0m0 1h0m0 1.5h0m0 1h0m0 171.5h0m0 9h0m0 9.5h0m0 11h0m9-192h0m0 181.5h0m0 2h0m0 7.5h0m0 42h0m0 16.5h0m8.5-76.5h0m0 13.5h0m7-182.5h0m0 4h0m0 150h0m0 10.5h0m0 10h0m0 5h0m0 21.5h0m6.5-212.5h0m0 4h0m0 17.5h0m0 125.5h0m0 2h0m0 2.5h0m0 1.5h0m0 12h0m0 8.5h0m6-172.5h0m0 3.5h0m0 5.5h0m0 1h0m0 141h0m0 2h0m0 15h0m0 16h0m0 48.5h0m6-236.5h0m0 5h0m0 1h0m0 2h0m0 138h0m0 2.5h0m0 1.5h0m0 29h0m0 18.5h0m5-192.5h0m0 4h0m0 4h0m0 128h0m0 8h0m0 4.5h0m0 5.5h0m0 4h0m0 12h0m4.5-176.5h0m0 1.5h0m0 2.5h0m0 3.5h0m0 4h0m0 6.5h0m0 1.5h0m0 7.5h0m0 1.5h0m0 19h0m0 7h0m0 9h0m0 2.5h0m0 9.5h0m0 5h0m0 1h0m0 .5h0m0 7.5h0m0 3h0m0 6h0m0 12h0m0 3.5h0m0 4.5h0m0 9.5h0m0 .5h0m0 2h0m0 2.5h0m0 12.5h0m0 3h0m0 3h0m0 1h0m0 4.5h0m0 1h0m0 25.5h0m0 54.5h0m4.5-237h0m0 9.5h0m0 1h0m0 1h0m0 1.5h0m0 3.5h0m0 3h0m0 2.5h0m0 10.5h0m0 11h0m0 1h0m0 .5h0m0 1h0m0 1h0m0 4.5h0m0 12h0m0 14.5h0m0 2h0m0 1h0m0 .5h0m0 9.5h0m0 .5h0m0 2h0m0 1.5h0m0 7.5h0m0 7.5h0m0 34.5h0m0 4h0m0 7.5h0m0 10h0m4.5-165h0m0 1h0m0 1h0m0 10h0m0 7.5h0m0 4.5h0m0 3h0m0 2h0m0 3h0m0 6.5h0m0 3.5h0m0 .5h0m0 24h0m0 3.5h0m0 4h0m0 1h0m0 1h0m0 4.5h0m0 1.5h0m0 6.5h0m0 .5h0m0 4h0m0 3.5h0m0 2h0m0 10h0m0 3.5h0m0 4h0m0 .5h0m0 1.5h0m0 6h0m0 1.5h0m0 .5h0m0 4h0m0 7.5h0m0 12.5h0m0 7.5h0m0 1.5h0m0 1.5h0m-.5 14h0m4.5-163h0m0 6.5h0m0 19.5h0m0 .5h0m0 1h0m0 4.5h0m0 1h0m0 1.5h0m0 .5h0m0 7h0m0 1.5h0m0 2.5h0m0 13h0m0 4h0m0 9h0m0 3.5h0m0 4h0m0 2h0m0 .5h0m0 6h0m0 5.5h0m0 2h0m0 3.5h0m0 17h0m0 2.5h0m0 .5h0m0 4.5h0m0 4h0m0 4h0m0 22.5h0m3.5-146.5h0m0 4.5h0m0 1h0m0 6.5h0m0 9.5h0m0 23h0m0 8.5h0m0 5.5h0m0 2.5h0m0 8h0m0 24.5h0m0 5h0m0 17h0m0 16.5h0m0 4.5h0m0 1h0m0 5h0m0 4.5h0m3.5-158.5h0m0 3.5h0m0 2h0m0 .5h0m0 4.5h0m0 .5h0m0 2h0m0 2.5h0m0 7.5h0m0 3.5h0m0 2.5h0m0 1.5h0m0 2.5h0m0 3h0m0 7.5h0m0 1h0m0 1.5h0m0 2.5h0m0 4.5h0m0 4h0m0 10.5h0m0 .5h0m0 2.5h0m0 6h0m0 2.5h0m0 16h0m0 1h0m0 6h0m3.5-102.5h0m0 1.5h0m0 11h0m0 3.5h0m0 .5h0m0 2h0m0 3h0m0 1h0m0 7.5h0m0 3.5h0m0 2h0m0 8.5h0m0 14.5h0m0 11.5h0m0 12.5h0m0 5.5h0m0 1.5h0m0 1h0m0 2h0m0 4.5h0m0 .5h0m0 1h0m0 2h0m0 .5h0m0 4h0m0 9.5h0m0 12h0m0 14.5h0m0 3.5h0m3-144.5h0m0 6.5h0m0 2.5h0m0 10h0m0 .5h0m0 8.5h0m0 1.5h0m0 .5h0m0 15.5h0m0 1h0m0 7.5h0m0 3.5h0m0 3h0m0 3h0m0 .5h0m0 6.5h0m0 3h0m0 5.5h0m0 1.5h0m0 7h0m0 2h0m0 1h0m0 5h0m0 8.5h0m0 4.5h0m0 20.5h0m0 2h0m0 6h0m0 28h0m0 53h0m3.5-207.5h0m0 4.5h0m0 8.5h0m0 1h0m0 8.5h0m0 2h0m0 1.5h0m0 7h0m0 1h0m0 4h0m0 20h0m0 2.5h0m0 4h0m0 2.5h0m0 1.5h0m0 3h0m0 1h0m0 1h0m0 .5h0m0 6h0m0 3h0m0 6.5h0m0 2h0m0 7.5h0m0 .5h0m0 13.5h0m0 10h0m0 20h0m2.5-130h0m0 3h0m0 1.5h0m0 7.5h0m0 10h0m0 10.5h0m0 2h0m0 .5h0m0 7.5h0m0 1h0m0 5h0m0 7h0m0 1h0m0 .5h0m0 4h0m0 2.5h0m0 4.5h0m0 5.5h0m0 4.5h0m0 .5h0m0 18.5h0m3-120.5h0m0 6.5h0m0 1.5h0m0 .5h0m0 1h0m0 1.5h0m0 3.5h0m0 .5h0m0 2.5h0m0 5h0m0 13.5h0m0 9h0m0 19.5h0m0 .5h0m0 1h0m0 2h0m0 8h0m0 1h0m0 .5h0m0 5h0m0 13h0m0 20h0m0 4.5h0m0 3.5h0m0 12.5h0m0 3.5h0m0 13h0m3-137.5h0m0 4h0m0 6h0m0 2.5h0m0 1h0m0 6h0m0 3h0m0 1.5h0m0 2.5h0m0 4h0m0 .5h0m0 3.5h0m0 2h0m0 6h0m0 7.5h0m0 1h0m0 6h0m0 7.5h0m0 5h0m0 10.5h0m0 8.5h0m0 4h0m0 .5h0m0 4.5h0m0 9.5h0m0 9.5h0m0 11h0m0 6.5h0m2.5-157.5h0m0 18.5h0m0 18h0m0 3h0m0 5h0m0 4h0m0 2h0m0 1h0m0 2.5h0m0 3.5h0m0 5h0m0 11h0m0 4.5h0m0 6.5h0m0 4h0m0 1.5h0m0 4.5h0m0 4h0m0 2.5h0m0 .5h0m0 .5h0m0 2h0m0 1h0m0 1.5h0m0 4h0m0 2.5h0m0 4h0m0 1.5h0m0 1h0m0 8h0m0 4h0m0 1.5h0m0 3h0m0 3h0m0 9.5h0m2.5-152.5h0m0 .5h0m0 .5h0m0 .5h0m0 1h0m0 .5h0m0 27.5h0m0 2h0m0 7.5h0m0 2.5h0m0 1.5h0m0 1.5h0m0 17h0m0 5h0m0 .5h0m0 2h0m0 6h0m0 1h0m0 .5h0m0 3h0m0 .5h0m0 3h0m0 3.5h0m0 5.5h0m0 2h0m0 .5h0m0 1.5h0m0 6h0m0 4h0m0 1.5h0m0 2h0m0 6h0m0 10h0m0 12h0m0 1h0m0 9.5h0m2.5-146h0m0 .5h0m2 2h0m0 16.5h0m-2 14.5h0m2 0h0m-2 3.5h0m2 2h0m-2 .5h0m0 2.5h0m0 3h0m0 4h0m0 1.5h0m0 4.5h0m2 0h0m-2 1.5h0m2 .5h0m0 1h0m-2 1.5h0m0 1h0m2 3.5h0m-2 2.5h0m0 1.5h0m0 1h0m0 5.5h0m0 1.5h0m0 1h0m2 .5h0m-2 1.5h0m0 3h0m0 1h0m0 .5h0m0 1.5h0m2 0h0m-2 7h0m2 3h0m0 .5h0m0 2.5h0m-2 11h0m0 .5h0m2 1h0m0 5.5h0m-2 0h0m0 1.5h0m0 2h0m2 1h0m-2 4h0m0 4h0m2 0h0m-2 16.5h0m2 5.5h0m2.5-122h0m0 2h0m0 9h0m0 1.5h0m0 4.5h0m0 16.5h0m0 2h0m0 2h0m0 9.5h0m0 4h0m0 1.5h0m0 7h0m0 5h0m0 2h0m0 6.5h0m0 3h0m0 1.5h0m0 1.5h0m0 8.5h0m0 7h0m0 12.5h0m0 2h0m0 7h0m2-143.5h0m0 1h0m0 4h0m0 .5h0m0 13h0m0 11h0m0 3.5h0m0 10h0m0 17h0m0 15h0m0 3.5h0m0 15.5h0m0 8h0m0 12h0m0 4h0m0 4h0m0 7.5h0m4.5-128.5h0m-2 .5h0m0 3h0m0 28h0m2 0h0m-2 1h0m2 1.5h0m0 7h0m-2 2h0m2 .5h0m0 2.5h0m0 7.5h0m0 1h0m-2 1h0m0 5.5h0m0 .5h0m2 .5h0m0 3.5h0m-2 .5h0m0 1h0m0 2h0m0 3h0m2 0h0m0 5.5h0m-2 3.5h0m0 1.5h0m2 5.5h0m0 1h0m-2 1h0m2 7.5h0m-2 3h0m0 .5h0m2 1h0m0 .5h0m-2 4h0m0 .5h0m2 1.5h0m0 4h0m0 .5h0m0 3h0m0 9h0m0 6.5h0m0 3h0m2-134.5h0m0 3h0m0 1h0m0 .5h0m0 29.5h0m0 1.5h0m0 7h0m0 2.5h0m0 4h0m0 2h0m0 9h0m0 3h0m0 15.5h0m0 .5h0m0 11.5h0m0 25h0m0 22h0m2-136.5h0m0 1h0m0 .5h0m1.5 .5h0m-1.5 .5h0m0 .5h0m0 .5h0m1.5 .5h0m-1.5 0h0m1.5 1.5h0m-1.5 0h0m1.5 .5h0m-1.5 .5h0m0 7.5h0m0 16.5h0m1.5 14h0m-1.5 3h0m0 .5h0m1.5 6.5h0m0 5.5h0m-1.5 12.5h0m1.5 9h0m-1.5 0h0m0 1h0m0 6.5h0m1.5 20.5h0m-1.5 2h0m0 3.5h0m0 3.5h0m0 1h0m1.5 9h0m-1.5 8.5h0m3.5-136h0m0 1.5h0m0 3h0m0 1.5h0m0 30.5h0m0 1h0m0 8h0m0 .5h0m0 4.5h0m0 9.5h0m0 2h0m0 4.5h0m0 17h0m0 3.5h0m0 7.5h0m0 13h0m0 4h0m0 24.5h0m2-133h0m1.5 4h0m-1.5 0h0m1.5 .5h0m0 1.5h0m0 13h0m-1.5 14h0m1.5 3.5h0m0 9.5h0m-1.5 1h0m1.5 0h0m-1.5 2.5h0m1.5 3h0m-1.5 1h0m0 2h0m1.5 2.5h0m-1.5 1h0m1.5 2h0m0 3.5h0m0 2h0m0 7h0m0 1h0m0 4h0m0 10h0m0 6h0m-1.5 1h0m1.5 21h0m-1.5 1.5h0m0 10h0m1.5 3.5h0m-1.5 6h0m3.5-135.5h0m0 .5h0m1.5 1h0m-1.5 2.5h0m1.5 .5h0m-1.5 1h0m1.5 .5h0m-1.5 .5h0m0 18h0m1.5 1.5h0m0 1h0m0 .5h0m0 1.5h0m0 3h0m-1.5 4.5h0m0 4.5h0m0 2h0m0 2h0m1.5 1.5h0m-1.5 0h0m1.5 4.5h0m0 .5h0m0 7h0m-1.5 .5h0m0 5h0m0 3.5h0m1.5 4h0m0 4.5h0m-1.5 2h0m1.5 0h0m0 4.5h0m-1.5 5h0m0 1.5h0m0 1h0m0 9h0m1.5 12.5h0m-1.5 13.5h0m1.5 2h0m3.5-128h0m-2 1h0m0 2h0m0 5h0m2 5.5h0m0 6.5h0m0 5.5h0m-2 7h0m2 1h0m0 3h0m-2 2h0m0 .5h0m2 .5h0m-2 6h0m2 1.5h0m-2 6h0m0 2h0m0 24h0m2 .5h0m0 7h0m-2 4h0m2 2.5h0m-2 2.5h0m0 1.5h0m0 2.5h0m2 3h0m0 7h0m0 1.5h0m0 .5h0m0 1.5h0m0 10.5h0m-2 2h0m0 6.5h0m5-104h0m-1.5 0h0m0 10.5h0m0 1h0m1.5 1.5h0m-1.5 .5h0m1.5 0h0m0 3.5h0m0 1.5h0m-1.5 4.5h0m1.5 1h0m-1.5 .5h0m0 1h0m1.5 .5h0m-1.5 1h0m1.5 5h0m-1.5 1h0m0 2.5h0m1.5 12h0m-1.5 14h0m1.5 8.5h0m-1.5 1h0m0 3h0m0 .5h0m1.5 9h0m0 .5h0m-1.5 5h0m3-91h0m1.5 10h0m-1.5 5.5h0m0 2.5h0m1.5 4.5h0m0 8h0m-1.5 .5h0m1.5 4h0m0 1.5h0m-1.5 4h0m0 1h0m0 6h0m0 3h0m0 4.5h0m0 4h0m1.5 4.5h0m-1.5 7h0m0 9h0m1.5 1h0m-1.5 6h0m3-118h0m-.5 25.5h0m1.5 3.5h0m0 1.5h0m-1.5 10.5h0m0 2h0m0 7h0m0 4.5h0m1.5 1.5h0m0 .5h0m-1.5 3h0m0 1h0m1.5 1h0m-1.5 3h0m1.5 3h0m-1.5 0h0m1.5 1h0m-1.5 1h0m1.5 11h0m0 4h0m-1.5 15.5h0m0 6.5h0m4.5-70.5h0m1 4h0m-2.5 1.5h0m0 2.5h0m0 3h0m0 3.5h0m0 2.5h0m1.5 1h0m1 .5h0m-2.5 7h0m0 .5h0m1.5 6h0m-1.5 0h0m2.5 .5h0m-1 2h0m1 12h0m-1 0h0m-1.5 1.5h0m0 .5h0m1.5 1h0m0 1h0m1 18.5h0m0 7h0m0 1.5h0m1-111h0m.5 31.5h0m0 4.5h0m0 2h0m1 1.5h0m0 4h0m-1 4.5h0m0 1h0m1 2h0m0 3.5h0m-1 1.5h0m0 .5h0m1 7.5h0m-1 16.5h0m1 19.5h0m-1 2h0m1 1.5h0m2.5-78h0m-1 7h0m1 3.5h0m-1 2.5h0m1 7h0m0 1h0m-1 4h0m1 2h0m0 21.5h0m0 6.5h0m0 4h0m-1 20h0m0 15.5h0m4.5-78.5h0m0 1h0m0 .5h0m0 .5h0m0 1h0m-2 .5h0m0 .5h0m2 .5h0m-1 1h0m1 2h0m0 2.5h0m-2 5h0m2 2.5h0m0 .5h0m-2 6h0m0 1.5h0m1 .5h0m-1 14.5h0m0 20.5h0m4.5-96h0m-1 17h0m-.5 5h0m.5 14h0m2 3h0m0 5h0m0 .5h0m0 20h0m-1 5h0m-1 6h0m1 2.5h0m1 4.5h0m-2 28.5h0m4.5-85.5h0m-1.5 7h0m0 1.5h0m0 2.5h0m1.5 4h0m-1.5 1h0m1.5 3h0m-1.5 9h0m1.5 3.5h0m0 18h0m0 2h0m0 3h0m-1.5 0h0m0 2h0m1.5 1h0m-1.5 4.5h0m0 1h0m3-77.5h0m.5 17.5h0m1 13.5h0m-1 0h0m-1 5h0m2 6h0m0 1h0m0 1.5h0m-1 .5h0m-1 0h0m0 1h0m2 11h0m0 1h0m-1 8.5h0m0 2.5h0m1 7.5h0m3-49.5h0m-2 4.5h0m0 .5h0m1 .5h0m-1 4h0m1 8.5h0m0 12h0m1 1.5h0m-1 24h0m4.5-57.5h0m-2.5 4.5h0m1 2.5h0m1 3.5h0m-2 1.5h0m2 5.5h0m-2 3h0m2.5 1.5h0m-.5 2h0m-1 5h0m0 14.5h0m0 3.5h0m1 .5h0m2-75.5h0m.5 24h0m0 12.5h0m-1 4h0m0 35.5h0m0 1.5h0m4.5-52.5h0m-1.5 5h0m1.5 1h0m0 1.5h0m-1 0h0m-1.5 1.5h0m1.5 1h0m1 2h0m-2.5 0h0m1 2.5h0m1.5 1.5h0m-1.5 .5h0m.5 .5h0m0 4h0m-.5 2h0m.5 11.5h0m-1.5 10h0m1.5 11h0m-1.5 7.5h0m3.5-56.5h0m1.5 8h0m-1.5 .5h0m.5 6h0m1 16h0m0 9h0m0 2h0m-1.5 23h0m5-59.5h0m0 1.5h0m-2 3h0m1 5.5h0m1.5 4.5h0m-1.5 .5h0m1 .5h0m-2.5 .5h0m2.5 6.5h0m-1 1.5h0m1.5 2.5h0m-.5 1h0m-2.5 4.5h0m3 4h0m1.5-38.5h0m-.5 6h0m.5 .5h0m1 2h0m-1.5 1h0m0 2h0m.5 2h0m0 1h0m1 1h0m-1 14.5h0m1 15h0m.5-41.5h0m1 7.5h0m.5 2h0m1 0h0m.5 1.5h0m-.5 .5h0m.5 1h0m0 1h0m-3 3h0m3 1.5h0m0 1.5h0m-.5 8h0m-1.5 .5h0m.5 17h0m3.5-42.5h0m0 1h0m-1.5 1h0m1.5 2h0m0 .5h0m-.5 .5h0m-1 5h0m0 15h0m1.5 25.5h0m4-52.5h0m-2 4h0m-1 1h0m2 1h0m-1 .5h0m-1 3h0m2 3h0m-2 22h0m3 6h0m-3 2h0m.5 1h0m4.5-48.5h0m-1 19.5h0m0 8h0m1 11.5h0m1.5-30.5h0m1.5 .5h0m-.5 3.5h0m-.5 1.5h0m2 .5h0m-1.5 .5h0m-.5 6h0m-1 1h0m3 1h0m-1.5 3.5h0m1.5 0h0m-3 .5h0m4.5-15.5h0m.5 1h0m-1 2.5h0m-.5 4h0m0 8.5h0m1 5h0m0 9.5h0m-1 11h0m2.5-41h0m3 .5h0m-1.5 0h0m1 1.5h0m-1.5 1.5h0m2 3h0m-.5 3h0m-1.5 .5h0m-1 2h0m1 .5h0m0 4.5h0m-.5 2.5h0m0 2.5h0m-.5 24.5h0m3.5-43.5h0m0 2.5h0m1 2h0m-1 1h0m0 10h0m2 0h0m-1 2.5h0m1 1h0m5-20.5h0m.5 2.5h0m0 .5h0m-.5 6h0m1 7.5h0m3-22h0m3 6h0m0 6h0m-1 24.5h0m1.5-29h0m5 9.5h0m1.5-7h0m8 28h0m2-16.5h0m-.5 3h0m-.5 4h0m3.5-31h0m0 32h0m2.5-23.5h0m2 32.5h0m3-42.5h0m-2 22.5h0m5 3h0m-1 15h0m-1 .5h0m4-28.5h0m1.5 12h0m-2.5 33h0m3.5-40.5h0m1 0h0m-1 7.5h0m0 3.5h0m18 25h0m6.5 5.5h0m4-7.5h0m29.5-104h0m29.5 103.5h0m9.5 13h0"/><path id="g3" d="M0 0m110 308.5h0m0 11h0m0 18.5h0m0 14h0m0 3h0m0 83h0m48.5-97.5h0m0 8h0m0 3.5h0m0 19h0m0 5h0m0 5.5h0m0 6h0m28-23.5h0m0 7h0m0 5h0m0 3.5h0m0 10h0m0 10h0m0 5.5h0m0 45.5h0m0 17.5h0m20-320.5h0m0 1h0m0 1.5h0m0 2.5h0m0 1.5h0m0 4.5h0m0 190h0m0 2.5h0m0 9.5h0m0 4h0m0 5.5h0m0 36.5h0m15.5-253h0m0 .5h0m0 .5h0m0 2.5h0m0 1.5h0m0 4h0m0 212.5h0m0 36.5h0m12.5-256.5h0m0 .5h0m0 1.5h0m0 .5h0m0 4h0m11-27.5h0m0 23.5h0m0 5h0m0 4h0m0 2.5h0m0 178.5h0m0 4.5h0m0 5.5h0m0 8h0m0 13.5h0m0 28.5h0m9-240h0m0 1h0m0 7h0m0 2h0m0 175h0m0 12h0m0 21.5h0m8.5-211h0m0 8h0m0 163h0m0 10.5h0m7-198.5h0m0 18.5h0m0 5.5h0m0 5.5h0m0 144h0m0 8h0m0 2h0m0 4h0m0 1h0m0 5h0m6.5-169h0m0 1.5h0m0 6.5h0m0 1.5h0m0 1h0m0 132h0m0 1.5h0m0 6h0m0 65.5h0m6-223h0m0 1.5h0m0 4h0m0 137.5h0m0 33h0m0 9h0m6-183.5h0m0 152.5h0m0 7h0m0 1h0m0 3.5h0m0 3.5h0m5-171.5h0m0 5h0m0 2.5h0m0 134h0m0 5h0m4.5-148h0m0 2h0m0 7.5h0m0 3h0m0 9.5h0m0 1h0m0 8h0m0 13h0m0 .5h0m0 4.5h0m0 2h0m0 7h0m0 6h0m0 1h0m0 1.5h0m0 3h0m0 12h0m0 1.5h0m0 4.5h0m0 9.5h0m0 1.5h0m0 2h0m0 8h0m0 1.5h0m0 3.5h0m0 1.5h0m0 14.5h0m0 3.5h0m0 .5h0m0 4.5h0m0 1h0m0 .5h0m0 3.5h0m0 3h0m0 9h0m4.5-153h0m0 2.5h0m0 2h0m0 7h0m0 5.5h0m0 1.5h0m0 5.5h0m0 1h0m0 3.5h0m0 6.5h0m0 1h0m0 6h0m0 5h0m0 1.5h0m0 6.5h0m0 2.5h0m0 1.5h0m0 1h0m0 21.5h0m0 1h0m0 .5h0m0 2h0m0 2h0m0 12.5h0m0 1h0m0 1.5h0m0 2h0m0 4.5h0m0 1h0m0 1h0m0 4h0m0 1.5h0m0 .5h0m0 10.5h0m0 18.5h0m0 14h0m0 31.5h0m4.5-195h0m0 3.5h0m0 7h0m0 6h0m0 .5h0m0 6h0m0 2h0m0 3h0m0 1h0m0 6.5h0m0 4.5h0m0 4h0m0 4h0m0 1.5h0m0 6.5h0m0 3.5h0m0 5.5h0m0 .5h0m0 6.5h0m0 2h0m0 2.5h0m0 5.5h0m0 4.5h0m0 2.5h0m0 1.5h0m0 3.5h0m0 5h0m0 2h0m0 1h0m0 1.5h0m0 1h0m0 30h0m0 1.5h0m0 .5h0m0 4h0m0 .5h0m0 2h0m0 16h0m4-155.5h0m0 4h0m0 1.5h0m0 3.5h0m0 10h0m0 1.5h0m0 3h0m0 5h0m0 .5h0m0 15h0m0 9h0m0 6h0m0 4.5h0m0 1.5h0m0 17h0m0 19.5h0m0 9h0m0 1.5h0m0 2h0m0 2h0m0 6h0m0 3h0m0 4h0m0 6.5h0m0 1.5h0m0 7.5h0m0 2h0m0 1.5h0m0 4.5h0m0 4h0m0 17.5h0m3.5-162h0m0 13h0m0 1h0m0 10h0m0 3.5h0m0 7.5h0m0 3h0m0 4.5h0m0 4.5h0m0 10.5h0m0 2.5h0m0 3.5h0m0 7h0m0 .5h0m0 4h0m0 3.5h0m0 3.5h0m0 1.5h0m0 2h0m0 3.5h0m0 2h0m0 2h0m0 7.5h0m0 7h0m0 16h0m0 11h0m0 22h0m3.5-163h0m0 6.5h0m0 3h0m0 4.5h0m0 10h0m0 4h0m0 7.5h0m0 17.5h0m0 1h0m0 2.5h0m0 17h0m0 6h0m0 6.5h0m0 7.5h0m0 19h0m0 6.5h0m0 9.5h0m0 12.5h0m0 22.5h0m3.5-163h0m0 2h0m0 .5h0m0 1.5h0m0 1.5h0m0 11h0m0 15.5h0m0 2h0m0 1h0m0 .5h0m0 2h0m0 4.5h0m0 30h0m0 8.5h0m0 8h0m0 13h0m0 4h0m0 2h0m0 5h0m0 16h0m0 15.5h0m0 3.5h0m0 12.5h0m3-151.5h0m0 3.5h0m0 5.5h0m0 1h0m0 3.5h0m0 5.5h0m0 7h0m0 2h0m0 11.5h0m0 5.5h0m0 .5h0m0 4.5h0m0 23.5h0m0 5h0m0 8h0m0 1h0m0 1.5h0m0 1.5h0m0 4h0m0 4.5h0m0 4h0m0 4h0m0 7.5h0m0 1h0m0 6h0m0 2.5h0m0 3h0m0 4h0m0 .5h0m0 7.5h0m3.5-143.5h0m0 .5h0m0 10h0m0 3h0m0 4.5h0m0 2h0m0 1.5h0m0 9.5h0m0 2h0m0 2.5h0m0 .5h0m0 6.5h0m0 4.5h0m0 .5h0m0 7.5h0m0 7h0m0 1.5h0m0 3.5h0m0 4.5h0m0 1h0m0 1.5h0m0 5h0m0 .5h0m0 1h0m0 7.5h0m0 27h0m0 3.5h0m0 10h0m0 7h0m0 17h0m2.5-151.5h0m0 .5h0m0 2.5h0m0 .5h0m0 4.5h0m0 3h0m0 5.5h0m0 1h0m0 1.5h0m0 2h0m0 1.5h0m0 17.5h0m0 1.5h0m0 4.5h0m0 6h0m0 6.5h0m0 2h0m0 12.5h0m0 .5h0m0 12h0m0 15.5h0m0 4h0m0 5.5h0m0 5.5h0m0 5h0m0 13.5h0m0 13.5h0m3-149h0m0 .5h0m0 3h0m0 7.5h0m0 5h0m0 7.5h0m0 2h0m0 10h0m0 2h0m0 1h0m0 4.5h0m0 4.5h0m0 9h0m0 3h0m0 6h0m0 4h0m0 4h0m0 3.5h0m0 1h0m0 5.5h0m0 .5h0m0 8.5h0m0 4.5h0m0 8.5h0m0 1h0m0 22h0m0 1h0m0 2.5h0m0 6h0m0 11.5h0m3-147.5h0m0 6.5h0m0 10h0m0 .5h0m0 7h0m0 4h0m0 1.5h0m0 1h0m0 3h0m0 2.5h0m0 1.5h0m0 9.5h0m0 2.5h0m0 1.5h0m0 10h0m0 6.5h0m0 7.5h0m0 1.5h0m0 3h0m0 7.5h0m0 2h0m0 .5h0m0 19h0m0 5h0m0 2h0m0 9h0m0 1h0m2.5-147h0m0 1h0m0 4.5h0m0 6h0m0 17.5h0m0 6h0m0 2h0m0 .5h0m0 .5h0m0 1.5h0m0 1.5h0m0 .5h0m0 6h0m0 .5h0m0 5.5h0m0 8.5h0m0 6h0m0 3.5h0m0 2.5h0m0 5h0m0 1.5h0m0 2h0m0 3.5h0m0 9h0m0 6h0m0 .5h0m0 2h0m0 10h0m0 1.5h0m0 1h0m0 .5h0m0 1h0m0 20h0m0 2h0m0 12h0m0 3h0m0 16.5h0m2.5-163.5h0m0 27h0m0 2.5h0m0 1h0m0 1h0m0 4h0m0 7.5h0m0 1.5h0m0 2h0m0 1.5h0m0 3.5h0m0 2h0m0 2.5h0m0 .5h0m0 18.5h0m0 9h0m0 4.5h0m0 2h0m0 1h0m0 7h0m0 5h0m0 3.5h0m0 18.5h0m0 10h0m0 3.5h0m4.5-142.5h0m-2 1h0m0 17.5h0m2 .5h0m-2 5h0m0 5h0m0 2.5h0m2 1.5h0m0 3h0m0 .5h0m0 .5h0m0 .5h0m0 1h0m0 .5h0m-2 4h0m2 0h0m0 6.5h0m0 5.5h0m-2 0h0m0 1.5h0m2 3.5h0m0 1h0m0 6.5h0m0 3.5h0m-2 2h0m0 1h0m2 3.5h0m-2 0h0m2 .5h0m-2 7h0m0 6.5h0m0 7h0m2 0h0m-2 1.5h0m2 .5h0m-2 .5h0m2 1h0m-2 .5h0m0 1.5h0m0 1.5h0m0 .5h0m0 3h0m0 1.5h0m2 2.5h0m-2 .5h0m2 1h0m0 1h0m0 3.5h0m-2 .5h0m0 13h0m0 3.5h0m2 15.5h0m2.5-149.5h0m0 .5h0m0 .5h0m0 21h0m0 1.5h0m0 6h0m0 2.5h0m0 6.5h0m0 2.5h0m0 15.5h0m0 6h0m0 8h0m0 3.5h0m0 49h0m0 1h0m0 .5h0m2-128h0m0 3.5h0m0 .5h0m0 .5h0m0 1h0m0 36h0m0 2.5h0m0 15h0m0 12.5h0m0 .5h0m0 16h0m0 14h0m0 11.5h0m0 22h0m0 34h0m2.5-169h0m0 .5h0m2 .5h0m-2 3.5h0m2 2h0m-2 .5h0m2 .5h0m0 10h0m0 1.5h0m0 9.5h0m-2 4.5h0m2 1.5h0m-2 5h0m0 2.5h0m0 .5h0m2 0h0m-2 .5h0m0 1.5h0m0 1.5h0m2 1.5h0m-2 2h0m2 1.5h0m-2 3h0m2 5.5h0m0 1h0m-2 14.5h0m2 5.5h0m-2 1.5h0m0 7.5h0m0 1h0m0 .5h0m2 .5h0m-2 7h0m2 .5h0m0 7h0m-2 4.5h0m0 4.5h0m2 2h0m0 2.5h0m-2 4h0m0 2h0m2 3.5h0m-2 19h0m1.5 18h0m2.5-163h0m0 30.5h0m0 .5h0m0 5h0m0 1.5h0m0 8.5h0m0 9h0m0 8h0m0 4h0m0 .5h0m0 1h0m0 .5h0m0 6.5h0m0 .5h0m0 9h0m0 4h0m0 12.5h0m0 9.5h0m0 6h0m0 .5h0m0 3.5h0m0 1h0m2-122.5h0m0 1h0m1.5 0h0m-1.5 1.5h0m1.5 .5h0m0 4h0m-1.5 .5h0m1.5 .5h0m0 5.5h0m-1.5 15h0m0 6.5h0m1.5 1h0m0 7h0m0 3h0m-1.5 0h0m0 12h0m0 1.5h0m1.5 12.5h0m0 5h0m0 .5h0m-1.5 3.5h0m1.5 4h0m-1.5 1h0m1.5 3.5h0m-1.5 5h0m1.5 3.5h0m-1.5 4.5h0m1.5 3h0m-1.5 4.5h0m0 6.5h0m1.5 8h0m2-123.5h0m0 2.5h0m0 1.5h0m0 1.5h0m0 33h0m0 5h0m0 4.5h0m0 3.5h0m0 1h0m0 1.5h0m0 18.5h0m0 14h0m0 9.5h0m2-93h0m1.5 3h0m-1.5 1h0m1.5 1.5h0m-1.5 .5h0m1.5 0h0m0 5h0m-1.5 24h0m0 8.5h0m1.5 1h0m-1.5 8.5h0m0 5.5h0m0 4h0m0 4h0m0 .5h0m1.5 5.5h0m-1.5 .5h0m1.5 19h0m0 2h0m-1.5 9h0m0 .5h0m1.5 6h0m0 5.5h0m0 1h0m0 3h0m0 12h0m-1.5 9.5h0m3.5-140.5h0m0 5.5h0m1.5 2h0m0 3h0m-1.5 1h0m0 1h0m0 14h0m1.5 2.5h0m-1.5 5h0m0 .5h0m1.5 2h0m-1.5 6h0m1.5 4h0m0 4h0m-1.5 .5h0m0 3.5h0m1.5 2.5h0m0 2h0m0 .5h0m0 10.5h0m-1.5 3h0m1.5 16.5h0m0 7h0m0 3.5h0m0 .5h0m-1.5 18.5h0m0 2.5h0m0 9.5h0m3-129h0m2 3.5h0m0 .5h0m-2 1h0m0 6.5h0m2 18.5h0m0 .5h0m-2 3.5h0m2 1h0m0 2.5h0m0 3h0m-2 .5h0m2 .5h0m0 1h0m0 1.5h0m-2 15h0m0 .5h0m0 1h0m2 19.5h0m0 1h0m-2 2h0m0 14h0m3.5-86h0m0 18.5h0m0 .5h0m1.5 6h0m-1.5 0h0m1.5 .5h0m0 .5h0m-1.5 2.5h0m0 7.5h0m0 1h0m0 .5h0m1.5 5.5h0m0 .5h0m0 .5h0m0 .5h0m-1.5 2h0m1.5 3h0m-1.5 5h0m1.5 3h0m-1.5 11.5h0m0 10h0m1.5 0h0m-1.5 4h0m1.5 3h0m-1.5 12h0m0 2h0m1.5 1h0m0 1.5h0m-1.5 2h0m1.5 5.5h0m-1.5 5.5h0m3-98h0m1.5 3h0m0 1.5h0m-1.5 1h0m1.5 1h0m-1.5 1h0m0 .5h0m1.5 .5h0m0 3h0m-1.5 5h0m1.5 1h0m0 13.5h0m-1.5 1.5h0m1.5 2.5h0m0 4.5h0m-1.5 3.5h0m1.5 1h0m0 3h0m-1.5 4h0m1.5 22h0m-1.5 8h0m1.5 3h0m0 14.5h0m2.5-113.5h0m0 13.5h0m-1.5 6h0m0 1.5h0m1.5 1.5h0m-1.5 5.5h0m1.5 7h0m0 8h0m0 12.5h0m0 6.5h0m-1.5 .5h0m1.5 30.5h0m-1.5 13.5h0m4.5-88.5h0m-1.5 4.5h0m2.5 1h0m-1 2h0m0 1h0m-1.5 0h0m2.5 0h0m0 1h0m-2.5 4h0m1.5 3.5h0m0 .5h0m-1.5 2h0m2.5 2h0m-1 0h0m-1.5 7.5h0m0 3h0m2.5 6.5h0m-2.5 6h0m2.5 3.5h0m-2.5 19.5h0m0 8h0m2.5 8.5h0m-2.5 6.5h0m4-99.5h0m1 14.5h0m0 2h0m0 3h0m-1 4h0m1 5.5h0m0 2.5h0m0 7h0m-1 1.5h0m0 .5h0m1 1.5h0m-1 8h0m0 3h0m0 23.5h0m1 9h0m-1 5.5h0m3.5-113h0m-1 36.5h0m1 1h0m0 .5h0m-1 0h0m1 .5h0m0 .5h0m-1 0h0m0 3.5h0m1 1.5h0m-1 .5h0m0 2.5h0m0 1h0m1 3h0m-1 3h0m1 11.5h0m-1 11h0m0 .5h0m0 .5h0m0 .5h0m0 1.5h0m1 22h0m0 3.5h0m-1 5h0m0 17.5h0m2.5-121.5h0m2 7h0m-1 6.5h0m-1 16h0m1 1.5h0m0 2.5h0m1 1.5h0m-1 3.5h0m1 1.5h0m0 17h0m0 3h0m0 16h0m-1 2h0m0 5.5h0m0 2.5h0m1 3.5h0m-2 4h0m0 2h0m3.5-71h0m0 3h0m1 1.5h0m1 3h0m0 5h0m-1 2.5h0m1 3h0m-1 4.5h0m1 30h0m-1 2.5h0m0 21.5h0m1 0h0m-1 5.5h0m3.5-77h0m0 4.5h0m-1.5 5h0m1.5 15h0m0 4.5h0m-1.5 29.5h0m2.5-66h0m1 7.5h0m-1 2h0m1 5h0m0 .5h0m-1 2h0m1 2h0m-1 1.5h0m1 1.5h0m1 2h0m-1 3h0m-1 .5h0m1 3.5h0m1 19.5h0m-2 11.5h0m0 4h0m1 20h0m3-85h0m1 14.5h0m0 1.5h0m-2 1h0m1 1h0m-1 4h0m1 1h0m-1 8.5h0m2 1h0m0 10h0m3.5-35.5h0m-.5 6h0m-2 3h0m2.5 3.5h0m0 2.5h0m-1.5 3.5h0m-1 5h0m1 1.5h0m1.5 3h0m-2.5 2h0m1 6h0m-1 7.5h0m0 6.5h0m2.5 7h0m-2.5 8h0m2 1h0m0 1.5h0m1.5-62.5h0m0 4.5h0m1 24.5h0m-1 12h0m3.5-47.5h0m1 1.5h0m0 .5h0m0 12.5h0m-2.5 7h0m1 4h0m1.5 5.5h0m-2.5 3.5h0m1 11h0m0 3h0m0 9.5h0m1.5 3h0m1.5-50.5h0m0 .5h0m0 2.5h0m0 1h0m1 .5h0m-1.5 0h0m1.5 1h0m0 .5h0m-1 16h0m0 1.5h0m1 22.5h0m0 26h0m0 3.5h0m1.5-78.5h0m1 10h0m1 1.5h0m-1 2.5h0m1 1h0m.5 3.5h0m-2.5 7h0m-.5 3h0m3 .5h0m-.5 1.5h0m-2.5 2.5h0m2.5 18.5h0m1.5-46h0m0 2.5h0m1.5 4.5h0m-1 12h0m1 13.5h0m0 16.5h0m3.5-48.5h0m-2 3h0m-1 1h0m1.5 2.5h0m0 2h0m-1.5 1h0m1 4h0m2 1h0m-2 20.5h0m.5 3h0m-1.5 12.5h0m5-50h0m-1.5 3.5h0m1.5 1h0m-.5 7h0m-1 5.5h0m0 12.5h0m1.5 .5h0m-1.5 5h0m1 8.5h0m4.5-46.5h0m0 4.5h0m-2 2h0m1 3h0m-1.5 0h0m1.5 4.5h0m0 1h0m-2 1h0m0 .5h0m2 8.5h0m0 18h0m.5 2.5h0m-2 15h0m3.5-55h0m.5 6h0m-.5 12h0m.5 12h0m0 1h0m4.5-30.5h0m-1.5 2h0m1.5 4h0m-2.5 .5h0m0 4h0m.5 2h0m-.5 1h0m1 4h0m-1 2h0m1 1h0m-.5 23.5h0m3-42h0m1 1.5h0m-1 6h0m.5 6.5h0m0 6.5h0m-1 5.5h0m0 4h0m4-27h0m-1.5 .5h0m.5 5.5h0m1.5 0h0m-2 .5h0m1 5.5h0m-1 4h0m1.5 2h0m1 0h0m-2.5 7h0m3 17h0m2-49h0m-.5 1.5h0m0 4h0m1 5.5h0m-1 2h0m0 1h0m2-6.5h0m1.5 1.5h0m-2 1.5h0m.5 1.5h0m1 1.5h0m0 1h0m.5 2h0m1 2h0m-2.5 3h0m1 2h0m1 16h0m1.5-27h0m3.5-3h0m-1.5 3h0m3 3.5h0m4.5-8.5h0m0 2.5h0m-.5 23.5h0m4.5-30h0m-1.5 6.5h0m4 22.5h0m-1 4h0m2.5-10h0m0 10h0m1.5 1.5h0m2.5-36h0m0 10h0m9 1h0m2.5-9.5h0m3 17h0m5-14.5h0m0 .5h0m-2.5 42.5h0m4.5-55.5h0m18 17.5h0m5 39h0m48-5.5h0m16.5 13h0m4 2h0"/><path id="g4" d="M0 0m110 303.5h0m0 2.5h0m0 7h0m0 8h0m0 2h0m0 4h0m0 6h0m0 7.5h0m0 30.5h0m0 10.5h0m0 20.5h0m48.5-60.5h0m0 4h0m0 8h0m0 3.5h0m0 16.5h0m0 11h0m0 10h0m0 7.5h0m0 9.5h0m0 26.5h0m0 9h0m0 47.5h0m28-128h0m0 15h0m0 20.5h0m0 6h0m0 15h0m0 4.5h0m20-271h0m0 2.5h0m0 206.5h0m0 1h0m0 9.5h0m0 4h0m0 10.5h0m0 4h0m0 7.5h0m15.5-48.5h0m0 7.5h0m0 1.5h0m0 3h0m0 18h0m0 42h0m12.5-262h0m0 3h0m0 181.5h0m0 3h0m0 3.5h0m0 19.5h0m0 21.5h0m0 12.5h0m0 2h0m11-249h0m0 7h0m0 187h0m0 1h0m9-181h0m0 1.5h0m0 .5h0m0 163.5h0m0 1h0m0 7h0m0 15.5h0m0 35h0m0 34.5h0m8.5-270h0m0 10h0m0 .5h0m0 2.5h0m0 1.5h0m0 2h0m0 1.5h0m0 3h0m0 162h0m0 2h0m0 3.5h0m0 1h0m0 3h0m0 7h0m7-183.5h0m0 3.5h0m0 .5h0m0 .5h0m0 .5h0m0 3.5h0m0 142.5h0m0 3h0m0 2.5h0m0 1.5h0m6.5-146h0m0 133h0m0 13.5h0m0 6h0m0 2h0m6-182.5h0m0 14.5h0m0 1h0m0 1h0m0 153h0m0 24h0m0 16h0m6-198.5h0m0 137.5h0m0 10.5h0m0 1h0m0 5h0m0 14h0m0 3.5h0m5-165.5h0m0 1h0m0 159h0m4.5-165.5h0m0 1.5h0m0 4.5h0m0 8.5h0m0 .5h0m0 2h0m0 4h0m0 5.5h0m0 1h0m0 2h0m0 .5h0m0 1h0m0 1.5h0m0 9h0m0 2.5h0m0 5h0m0 .5h0m0 3.5h0m0 15h0m0 2.5h0m0 4h0m0 .5h0m0 11h0m0 15h0m0 7.5h0m0 5.5h0m0 4.5h0m0 2.5h0m0 .5h0m4.5-120.5h0m0 10.5h0m0 7h0m0 1h0m0 4h0m0 5h0m0 17h0m0 6.5h0m0 1.5h0m0 10h0m0 8h0m0 3h0m0 7h0m0 5h0m0 2h0m0 1h0m0 18.5h0m0 5.5h0m0 8h0m0 8h0m0 6h0m0 7.5h0m0 7.5h0m0 3.5h0m0 25.5h0m4.5-186.5h0m0 7h0m0 2.5h0m0 23.5h0m0 11.5h0m0 1.5h0m0 9.5h0m0 4h0m0 12.5h0m0 14h0m0 8h0m0 17h0m0 9h0m0 11.5h0m0 24.5h0m0 9h0m0 7h0m4-161h0m0 .5h0m0 7.5h0m0 15.5h0m0 1.5h0m0 5h0m0 13.5h0m0 5h0m0 .5h0m0 19h0m0 .5h0m0 5h0m0 2.5h0m0 3h0m0 .5h0m0 12h0m0 7h0m0 6h0m0 5.5h0m0 3h0m0 14.5h0m0 23.5h0m3.5-147.5h0m0 3.5h0m0 .5h0m0 3.5h0m0 4.5h0m0 16.5h0m0 4h0m0 4h0m0 2.5h0m0 2.5h0m0 3.5h0m0 12h0m0 3.5h0m0 2h0m0 5h0m0 12h0m0 4h0m0 4.5h0m0 22.5h0m0 .5h0m0 10.5h0m0 3.5h0m0 7.5h0m0 9.5h0m0 7h0m3.5-155h0m0 2.5h0m0 1h0m0 .5h0m0 10h0m0 2h0m0 3h0m0 1.5h0m0 4h0m0 6h0m0 8.5h0m0 4.5h0m0 4h0m0 6.5h0m0 2h0m0 5h0m0 5h0m0 3.5h0m0 2h0m0 4h0m0 1h0m0 4h0m0 18.5h0m0 10.5h0m0 .5h0m0 7h0m0 1.5h0m0 9.5h0m0 8h0m0 3.5h0m0 10.5h0m0 2h0m0 1.5h0m0 20.5h0m3.5-177h0m0 1.5h0m0 4.5h0m0 15h0m0 1h0m0 6.5h0m0 9.5h0m0 1.5h0m0 1.5h0m0 3.5h0m0 3h0m0 1h0m0 2.5h0m0 7.5h0m0 12.5h0m0 2.5h0m0 30h0m0 .5h0m0 4h0m0 5h0m0 6.5h0m0 3.5h0m0 3.5h0m0 12h0m0 30h0m3-164h0m0 5h0m0 8h0m0 16.5h0m0 2h0m0 8h0m0 .5h0m0 1h0m0 2.5h0m0 1.5h0m0 5.5h0m0 5h0m0 4.5h0m0 2.5h0m0 6.5h0m0 1h0m0 30.5h0m0 7h0m0 6.5h0m0 1h0m0 3h0m0 26.5h0m0 9h0m3.5-145h0m0 3.5h0m0 1.5h0m0 3h0m0 2.5h0m0 2.5h0m0 6.5h0m0 2h0m0 11.5h0m0 6.5h0m0 12.5h0m0 9.5h0m0 16.5h0m0 10.5h0m0 1.5h0m0 2.5h0m0 10h0m0 2h0m0 10.5h0m0 3.5h0m0 1.5h0m0 2h0m0 8h0m0 8h0m2.5-139.5h0m0 11.5h0m0 1h0m0 3h0m0 17.5h0m0 4.5h0m0 17.5h0m0 .5h0m0 8h0m0 12h0m0 3h0m0 15.5h0m0 6h0m0 4h0m0 .5h0m0 10.5h0m0 1.5h0m0 1h0m0 1.5h0m0 1.5h0m0 4h0m0 32.5h0m3-154.5h0m0 4h0m0 1h0m0 3.5h0m0 5.5h0m0 2h0m0 8.5h0m0 1h0m0 1h0m0 1h0m0 11.5h0m0 2.5h0m0 9h0m0 .5h0m0 1h0m0 10h0m0 4h0m0 .5h0m0 9h0m0 2.5h0m0 2h0m0 6h0m0 1h0m0 6.5h0m0 4h0m0 3.5h0m0 9.5h0m0 4.5h0m0 3h0m0 5h0m0 2.5h0m0 5h0m.5 11.5h0m2.5-148h0m0 4.5h0m0 7h0m0 4h0m0 1.5h0m0 1.5h0m0 3.5h0m0 2h0m0 1h0m0 1.5h0m0 3.5h0m0 6h0m0 2h0m0 8.5h0m0 8.5h0m0 13h0m0 .5h0m0 3h0m0 .5h0m0 1h0m0 2h0m0 9.5h0m0 3.5h0m0 .5h0m0 11h0m0 3h0m0 11.5h0m0 10h0m0 1h0m0 8h0m0 1h0m0 11h0m2.5-164h0m0 1h0m0 1h0m0 23h0m0 1h0m0 9h0m0 1.5h0m0 2.5h0m0 4.5h0m0 2h0m0 13.5h0m0 11.5h0m0 9.5h0m0 .5h0m0 3.5h0m0 8h0m0 1.5h0m0 4h0m0 3.5h0m0 6h0m0 3.5h0m0 16.5h0m0 34h0m0 3.5h0m2.5-149.5h0m0 23h0m0 3.5h0m0 8.5h0m0 11h0m0 2.5h0m0 4h0m0 9.5h0m0 2h0m0 6h0m0 9h0m0 7h0m0 .5h0m0 1.5h0m0 1.5h0m0 8.5h0m0 3h0m0 3.5h0m0 1h0m0 14h0m0 7.5h0m0 5.5h0m0 1.5h0m0 6h0m0 7h0m4.5-159.5h0m-2 14.5h0m2 13.5h0m-2 5h0m2 3h0m-2 3h0m0 .5h0m0 .5h0m2 2.5h0m0 2h0m0 3h0m-2 1h0m2 1h0m0 7h0m-2 1.5h0m2 2.5h0m0 1h0m-2 2h0m0 17.5h0m2 2.5h0m0 3.5h0m-2 10h0m0 2h0m2 2h0m0 2.5h0m-2 1.5h0m2 1h0m0 1.5h0m0 3.5h0m-2 5h0m0 2h0m2 2h0m-2 2h0m2 .5h0m-2 1.5h0m2 4.5h0m-2 9h0m2 10.5h0m-2 2h0m2 1h0m0 1.5h0m2.5-136h0m0 8.5h0m0 10h0m0 8.5h0m0 9h0m0 9h0m0 9h0m0 .5h0m0 8.5h0m0 5h0m0 18.5h0m0 4.5h0m0 6h0m0 1.5h0m0 3h0m0 3h0m2-118.5h0m0 3h0m0 5h0m0 7.5h0m0 3h0m0 13h0m0 3h0m0 3.5h0m0 3.5h0m0 2.5h0m0 14.5h0m0 8.5h0m0 8.5h0m0 1.5h0m0 2.5h0m0 6h0m0 9.5h0m0 7.5h0m0 3h0m0 .5h0m0 6.5h0m0 2h0m0 2h0m0 3h0m0 12h0m0 5.5h0m0 1.5h0m2.5-139h0m0 1h0m0 1h0m2 .5h0m-2 0h0m0 .5h0m2 1h0m0 .5h0m-2 .5h0m2 0h0m-2 .5h0m2 1.5h0m-2 7.5h0m2 13.5h0m-2 2.5h0m2 .5h0m-2 0h0m2 1h0m0 2.5h0m-2 .5h0m2 .5h0m-2 1h0m0 6.5h0m2 2h0m-2 .5h0m0 .5h0m2 2h0m-2 1h0m0 2.5h0m0 2h0m0 9.5h0m0 2h0m0 2.5h0m0 8h0m0 5h0m2 1.5h0m0 1h0m0 3.5h0m-2 10.5h0m0 2.5h0m2 .5h0m-2 .5h0m0 .5h0m0 2h0m0 2h0m2 3.5h0m0 2.5h0m-2 .5h0m0 2h0m2 1h0m0 .5h0m0 .5h0m-2 1h0m0 2h0m0 2h0m2 3.5h0m-2 1.5h0m2 0h0m-2 13h0m4-135h0m0 1h0m0 2.5h0m0 29h0m0 14.5h0m0 7.5h0m0 10h0m0 .5h0m0 12.5h0m0 9.5h0m0 3h0m0 11h0m0 17.5h0m0 .5h0m0 5.5h0m0 1.5h0m0 3h0m2-131.5h0m1.5 2.5h0m-1.5 7.5h0m1.5 21h0m-1.5 4h0m1.5 0h0m0 1h0m-1.5 0h0m1.5 2.5h0m-1.5 5h0m0 1.5h0m1.5 1h0m-1.5 0h0m1.5 1h0m0 .5h0m0 1.5h0m0 .5h0m0 3h0m-1.5 6.5h0m0 3.5h0m1.5 .5h0m0 1.5h0m0 3.5h0m-1.5 1h0m0 1h0m1.5 6.5h0m0 2.5h0m0 5h0m-1.5 1h0m0 1h0m1.5 3h0m0 3h0m0 .5h0m0 5.5h0m-1.5 17.5h0m0 6.5h0m0 8.5h0m0 1h0m3.5-126.5h0m0 4.5h0m0 5.5h0m0 23h0m0 8h0m0 3h0m0 1.5h0m0 19h0m0 9h0m0 3h0m0 1.5h0m0 7h0m0 2.5h0m0 6h0m0 3h0m0 5h0m0 6.5h0m2-105h0m1.5 0h0m-1.5 2h0m1.5 7.5h0m0 20h0m0 10h0m-1.5 1.5h0m1.5 .5h0m0 4h0m-1.5 2h0m0 6.5h0m0 .5h0m1.5 1.5h0m-1.5 1.5h0m1.5 1h0m0 3.5h0m0 5.5h0m0 3.5h0m0 3.5h0m0 4h0m-1.5 17.5h0m1.5 8.5h0m0 2.5h0m-1.5 24h0m0 .5h0m1.5 2.5h0m2-137h0m0 1h0m0 2h0m1.5 1h0m0 .5h0m0 1.5h0m0 19.5h0m-1.5 4.5h0m1.5 7h0m-1.5 2.5h0m1.5 1h0m0 6.5h0m0 11h0m0 3h0m0 6h0m-1.5 .5h0m0 6h0m0 3.5h0m0 1h0m1.5 1.5h0m0 2h0m0 11.5h0m-1.5 16h0m1.5 2.5h0m-1.5 6.5h0m1.5 10h0m-1.5 .5h0m4.5-133h0m-1.5 9h0m0 .5h0m2 1h0m-2 3.5h0m0 19.5h0m2 3.5h0m-2 1.5h0m0 4.5h0m2 5h0m-2 2.5h0m0 7.5h0m0 1h0m2 7h0m-2 5h0m2 1h0m-2 0h0m2 1h0m-2 5.5h0m2 4h0m0 .5h0m-2 3.5h0m2 4.5h0m0 6h0m0 3.5h0m-2 1.5h0m2 0h0m0 5.5h0m0 11.5h0m-2 5h0m5-105.5h0m0 3h0m-1.5 19h0m0 .5h0m1.5 0h0m0 6.5h0m0 10.5h0m0 6h0m0 3h0m0 6.5h0m0 .5h0m0 12.5h0m-1.5 5.5h0m0 9.5h0m0 25h0m1.5 4h0m3-99h0m-1.5 4.5h0m0 5.5h0m1.5 .5h0m0 4.5h0m0 1h0m-1.5 9.5h0m1.5 2.5h0m-1.5 .5h0m1.5 6h0m0 9.5h0m-1.5 .5h0m1.5 6h0m0 3h0m0 6h0m0 5.5h0m-1.5 12.5h0m0 4h0m0 14.5h0m2.5-101.5h0m0 2.5h0m1.5 11.5h0m-1.5 0h0m0 2.5h0m1.5 5h0m-1.5 3h0m1.5 1.5h0m-1.5 9h0m1.5 5.5h0m-1.5 2.5h0m0 11h0m1.5 15.5h0m-1.5 14.5h0m0 1.5h0m1.5 4.5h0m-1.5 2h0m0 6.5h0m4.5-97.5h0m1 10.5h0m0 1h0m-1 0h0m1 3.5h0m-2.5 .5h0m0 1h0m1.5 .5h0m1 .5h0m-2.5 1h0m1.5 0h0m0 3h0m1 0h0m0 1.5h0m0 10h0m-1 1.5h0m-1.5 3h0m2.5 5h0m-1 2h0m-1.5 1.5h0m1.5 1.5h0m1 6.5h0m-1 3h0m0 5h0m1 6h0m-2.5 7.5h0m1.5 1h0m0 34h0m3.5-96h0m-1 0h0m0 1.5h0m1 .5h0m0 4h0m-1 6.5h0m1 4.5h0m0 15h0m0 3h0m-1 .5h0m0 5h0m0 2h0m1 8h0m-1 8.5h0m1 15h0m1.5-83.5h0m0 10.5h0m1 1h0m-1 .5h0m0 3h0m1 .5h0m0 5.5h0m0 .5h0m0 2h0m-1 1h0m0 21h0m1 6h0m-1 15h0m1 .5h0m0 7h0m-1 12.5h0m2.5-76h0m0 2h0m0 .5h0m0 .5h0m0 .5h0m2 2h0m-2 3h0m1 2.5h0m0 6h0m1 7.5h0m-1 18.5h0m1 0h0m-1 3.5h0m-1 24h0m2 4.5h0m0 8.5h0m3.5-99.5h0m-1 5.5h0m1 7h0m0 2.5h0m-1 1h0m0 .5h0m1 1h0m-1 1.5h0m0 4.5h0m0 4h0m0 3h0m0 11h0m0 3.5h0m0 6.5h0m0 8h0m-1 7.5h0m4.5-68.5h0m0 10h0m-1.5 3.5h0m1.5 6h0m-1.5 0h0m0 .5h0m1.5 .5h0m-1.5 .5h0m1.5 2.5h0m-1.5 5.5h0m0 12h0m0 .5h0m0 12.5h0m0 9.5h0m2-75.5h0m.5 26.5h0m0 7.5h0m1 4.5h0m0 6h0m-1 7h0m2 2h0m0 2.5h0m0 12h0m-2 6h0m1 3h0m0 18h0m-1 10.5h0m0 .5h0m5-70h0m-1 2.5h0m0 1.5h0m-1 12h0m0 1h0m2 1.5h0m-1 11h0m0 13h0m0 23.5h0m4.5-69h0m0 1.5h0m-.5 2h0m-1 1h0m0 2.5h0m1 .5h0m-1 1.5h0m-1 1.5h0m2 .5h0m-2 2.5h0m2 1h0m-1 3h0m1 1.5h0m.5 1h0m0 5h0m-2.5 7h0m1 6h0m1 4.5h0m-2 11h0m2 10h0m1.5-70h0m1 7.5h0m-1 1h0m0 2h0m1 1.5h0m0 1h0m0 2h0m-1 8h0m1 1.5h0m-1 1.5h0m1 22.5h0m-1 22h0m4.5-58.5h0m-1 1.5h0m-1.5 7h0m0 .5h0m0 .5h0m1.5 5h0m-1.5 0h0m1.5 7.5h0m1 2h0m-1 32h0m3.5-59h0m0 4h0m-1.5 3h0m.5 1h0m0 2h0m-.5 0h0m.5 1h0m-.5 8.5h0m1.5 2h0m-1 7h0m0 8h0m0 5.5h0m0 6h0m1 4h0m1-47.5h0m3 3h0m-2.5 1.5h0m0 1h0m2.5 0h0m-1.5 3h0m-1 8h0m-.5 .5h0m2.5 6.5h0m.5 17h0m-2.5 7h0m5-32h0m0 5h0m.5-17.5h0m1 .5h0m.5 .5h0m0 1.5h0m-1.5 1.5h0m2.5 2h0m.5 3h0m0 15.5h0m0 4.5h0m-2 3h0m1.5 1.5h0m-2.5 3h0m2.5 22h0m2-56.5h0m-1 30.5h0m1.5 13h0m4-50.5h0m0 2h0m-2.5 .5h0m0 1h0m-.5 6.5h0m.5 2h0m-.5 4h0m2 2h0m-1 .5h0m1.5 0h0m-2.5 6.5h0m1 2h0m-1 3h0m0 9.5h0m.5 34.5h0m4-66h0m-.5 3.5h0m.5 2h0m.5 5h0m-.5 12h0m2-22h0m2.5 1.5h0m0 1h0m-2 7.5h0m0 15.5h0m-.5 2h0m1 2.5h0m2.5-31.5h0m.5 2h0m.5 9h0m-1.5 3.5h0m4.5-12.5h0m.5 2.5h0m.5 .5h0m-.5 .5h0m-.5 1h0m-.5 2h0m-1 1h0m1.5 2.5h0m1 1h0m-2 3h0m-.5 10.5h0m2 8h0m-1.5 17h0m2.5-45h0m1 7.5h0m-1 18h0m0 15h0m5.5-41h0m-.5 .5h0m-1.5 9h0m.5 7h0m1 18.5h0m1.5-37.5h0m1 2.5h0m-1 21h0m2.5-16.5h0m2 0h0m-2.5 2.5h0m1 1.5h0m-1 5.5h0m5.5-12h0m-1 27.5h0m2.5-21.5h0m1 6.5h0m0 17.5h0m1.5-21h0m.5 2h0m2-3h0m4.5 6.5h0m3.5 8.5h0m3.5-8.5h0m-2 5.5h0m4-18.5h0m-1 2h0m3.5 6.5h0m3.5-6.5h0m9 37h0m1.5-31h0m10.5 13.5h0m22.5 16.5h0m-2.5 3.5h0m16.5-17.5h0m45.5 15.5h0m1 12h0"/>
</defs>
<clipPath id="box"><rect x="109" y="18.6" width="642.0" height="477.4"/></clipPath>
<g fill="none" stroke="#f00" clip-path="url(#box)">
<path d="M110.1 300.9V138.5M110.1 136.3V132.8M110.1 131.3V126.8M110.1 124.8V114.6M110.1 103.2V100.2M158.5 336.6V157.6M158.5 152.6V148.4M158.5 137.2V129.8M158.5 124.2V122.0M186.6 357.4V139.5M206.6 159.5V347.0M222.0 165.5V352.0M234.7 167.0V344.0M245.4 169.5V341.0M254.6 179.7V340.0M262.8 185.5V343.0M270.1 188.7V330.0M276.7 194.0V316.0M282.7 182.0V315.0M288.3 177.5V312.0M293.4 182.0V306.0" stroke-width="3.9" stroke-linecap="butt"/>
<g stroke-width="3.9" stroke-opacity="0.3" stroke-linecap="round">
<use href="#g0"/><use href="#g1"/><use href="#g2"/><use href="#g3"/><use href="#g4"/>
</g>
<g stroke-width="3.0" stroke-linecap="round">
<use href="#g0"/><use href="#g1"/><use href="#g2"/><use href="#g3"/><use href="#g4"/>
</g>
</g>
<g class="tk">
<use href="#one" transform="translate(41.9 510.7) scale(0.01602 -0.01602)"/>
<text x="60.1" y="510.7" font-size="32.8">0</text>
<text x="83.1" y="494.5" font-size="27.0">0</text>
<use href="#one" transform="translate(41.9 392.3) scale(0.01602 -0.01602)"/>
<text x="60.1" y="392.3" font-size="32.8">0</text>
<text x="83.1" y="376.1" font-size="27.0">1</text>
<use href="#one" transform="translate(41.9 273.9) scale(0.01602 -0.01602)"/>
<text x="60.1" y="273.9" font-size="32.8">0</text>
<text x="83.1" y="257.8" font-size="27.0">2</text>
<use href="#one" transform="translate(41.9 155.6) scale(0.01602 -0.01602)"/>
<text x="60.1" y="155.6" font-size="32.8">0</text>
<text x="83.1" y="139.4" font-size="27.0">3</text>
<use href="#one" transform="translate(41.9 37.2) scale(0.01602 -0.01602)"/>
<text x="60.1" y="37.2" font-size="32.8">0</text>
<text x="83.1" y="21.0" font-size="27.0">4</text>
<use href="#one" transform="translate(80.6 545.6) scale(0.01602 -0.01602)"/>
<text x="98.8" y="545.6" font-size="32.8">0</text>
<text x="121.8" y="529.6" font-size="27.0">0</text>
<use href="#one" transform="translate(240.2 545.6) scale(0.01602 -0.01602)"/>
<text x="258.4" y="545.6" font-size="32.8">0</text>
<text x="281.4" y="529.6" font-size="27.0">1</text>
<use href="#one" transform="translate(399.8 545.6) scale(0.01602 -0.01602)"/>
<text x="418.0" y="545.6" font-size="32.8">0</text>
<text x="440.9" y="529.6" font-size="27.0">2</text>
<use href="#one" transform="translate(559.3 545.6) scale(0.01602 -0.01602)"/>
<text x="577.6" y="545.6" font-size="32.8">0</text>
<text x="600.5" y="529.6" font-size="27.0">3</text>
<use href="#one" transform="translate(718.9 545.6) scale(0.01602 -0.01602)"/>
<text x="737.1" y="545.6" font-size="32.8">0</text>
<text x="760.1" y="529.6" font-size="27.0">4</text>
<text id="xt" style="stroke-width:0" x="333.2" y="590.9" font-size="37" textLength="171.5" lengthAdjust="spacingAndGlyphs">Outdegree</text>
<text id="yt" style="stroke-width:0" transform="translate(28.2 516.5) rotate(-90)" font-size="36.8" textLength="457" lengthAdjust="spacingAndGlyphs">Average neighbor outdegree</text>
</g>
</g>
</svg>
</body></html>
